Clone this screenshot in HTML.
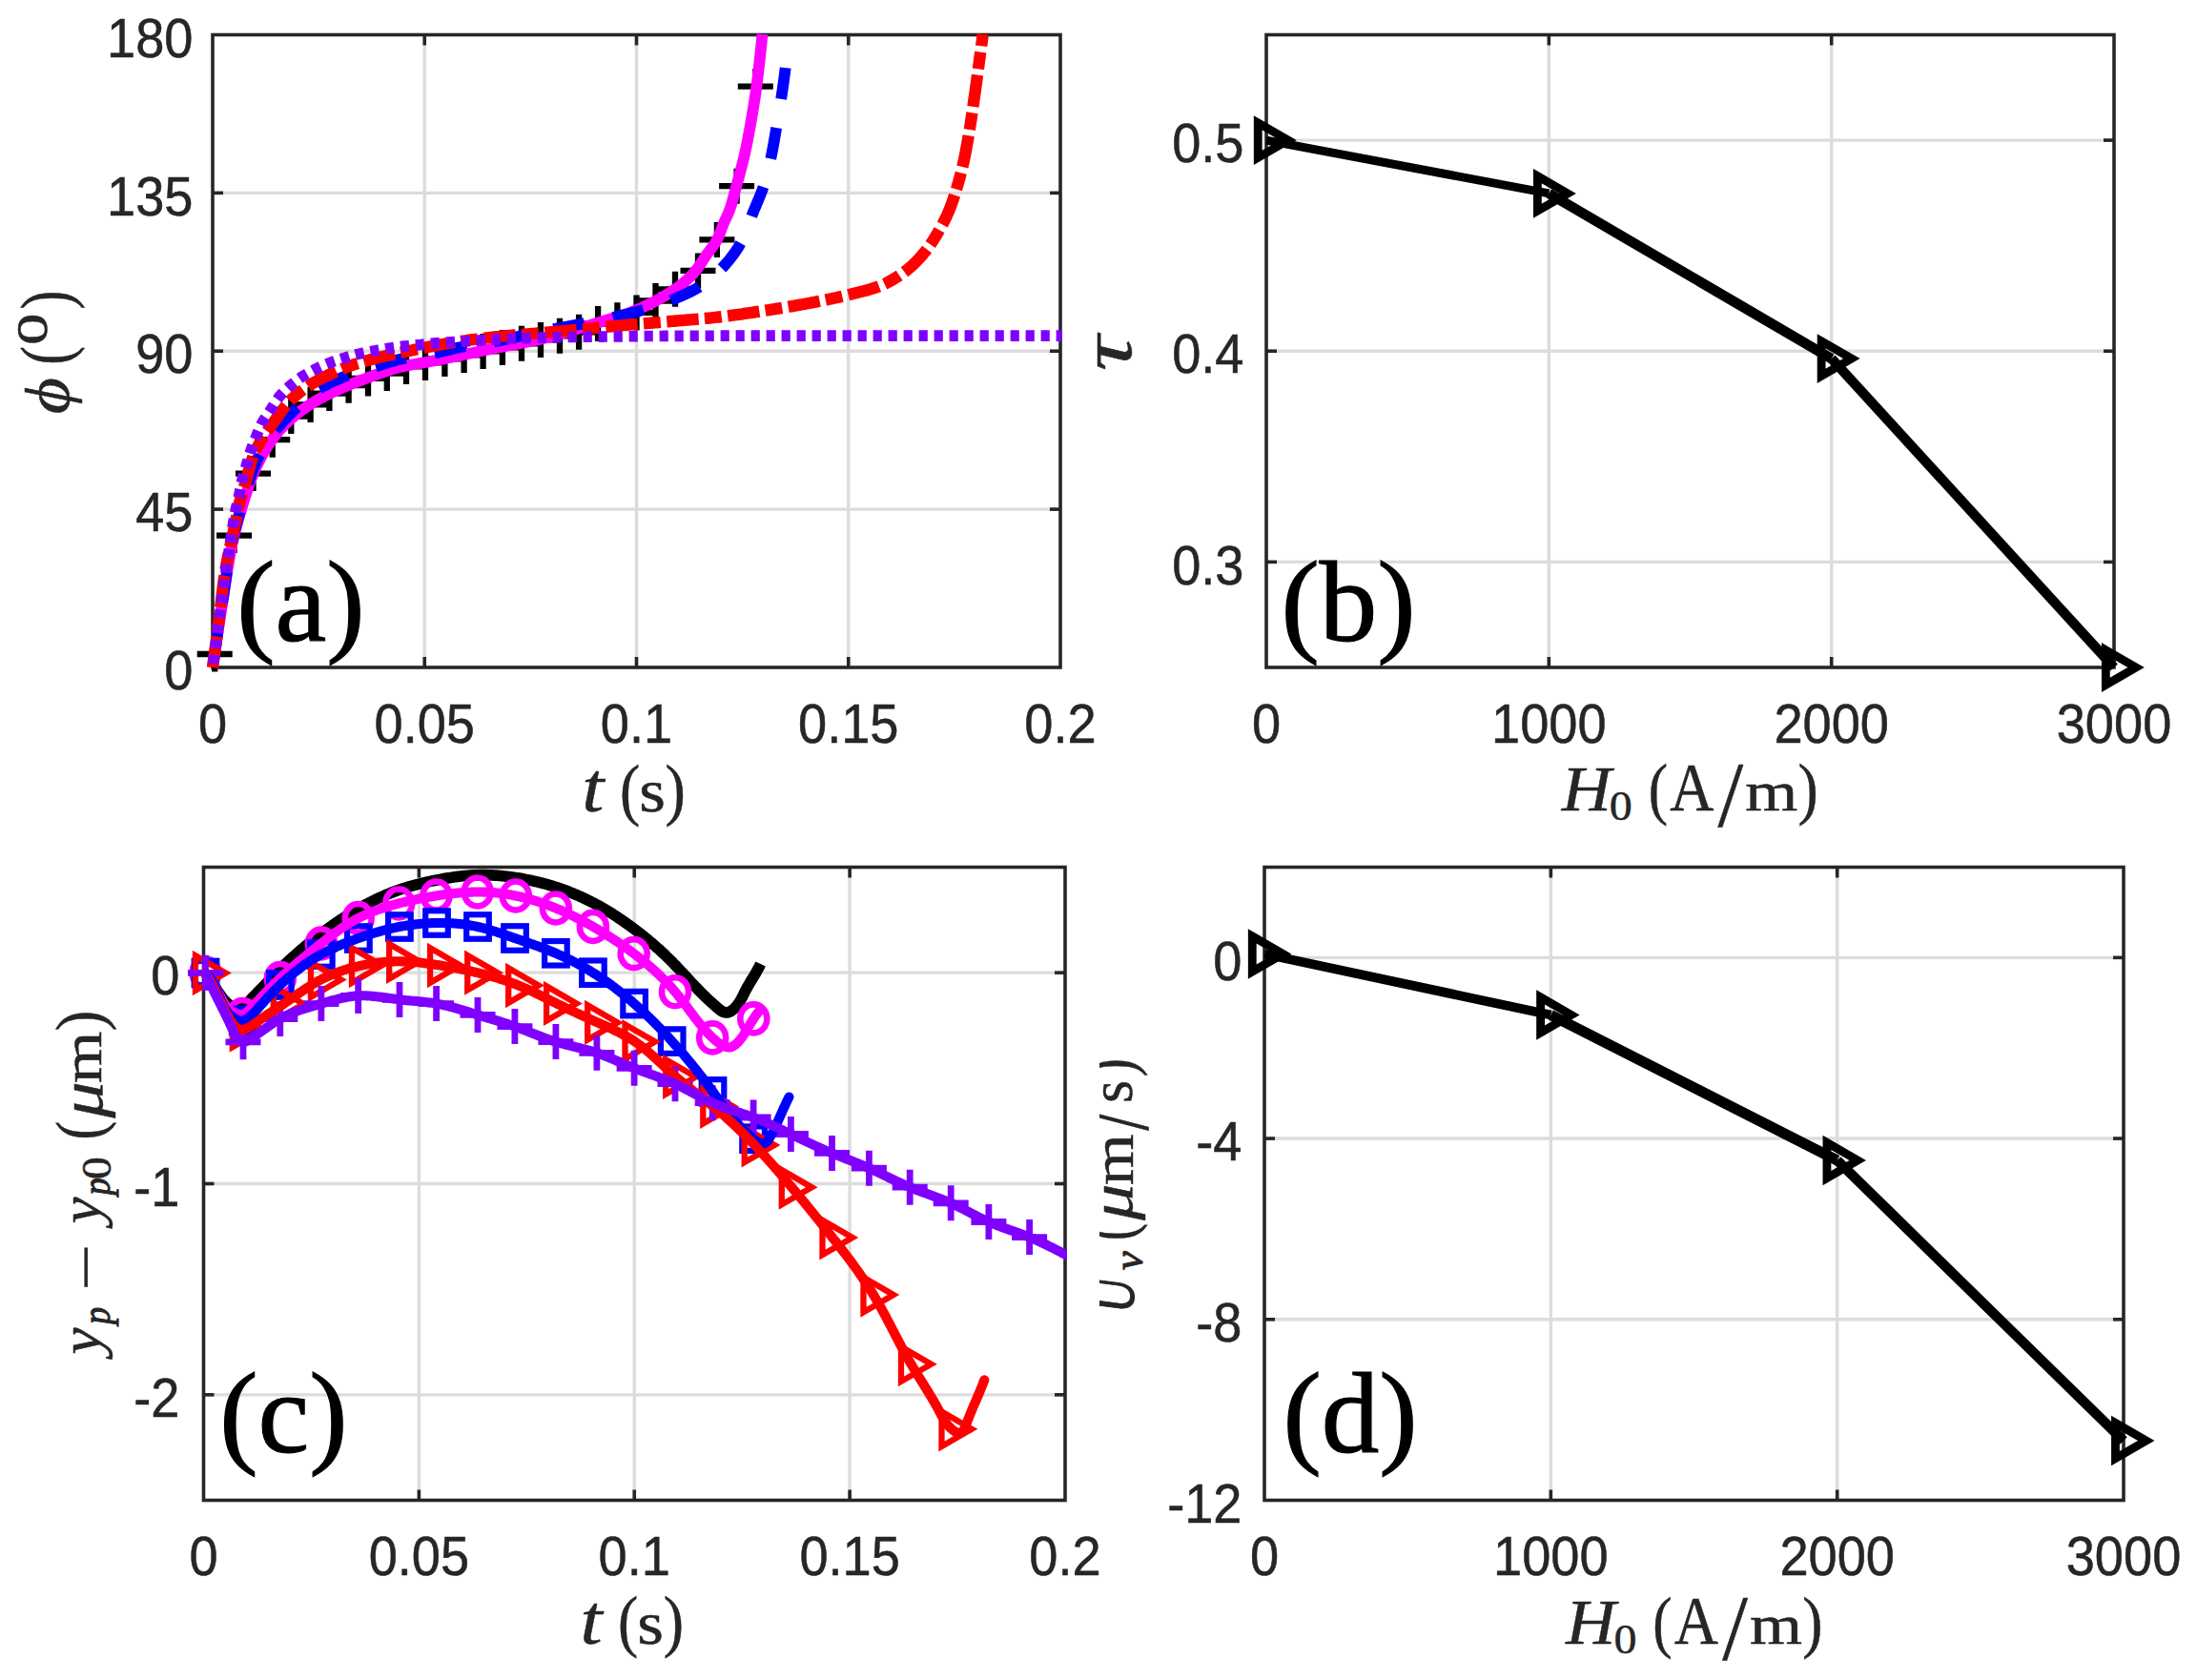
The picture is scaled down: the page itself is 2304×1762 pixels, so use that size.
<!DOCTYPE html>
<html><head><meta charset="utf-8"><title>Figure</title>
<style>
html,body{margin:0;padding:0;background:#fff;}
svg{display:block;}
.tk{font-family:"Liberation Sans",Arial,Helvetica,sans-serif;fill:#262626;stroke:#262626;stroke-width:0.5px;}
.se{font-family:"Liberation Serif","Times New Roman",Times,serif;}
.lb{font-family:"Liberation Serif","Times New Roman",Times,serif;fill:#262626;}
</style></head><body>
<svg width="2304" height="1762" viewBox="0 0 2304 1762">
<rect width="2304" height="1762" fill="#fff"/>
<line x1="445.25" y1="36.5" x2="445.25" y2="700" stroke="#dcdcdc" stroke-width="3.4"/>
<line x1="667.5" y1="36.5" x2="667.5" y2="700" stroke="#dcdcdc" stroke-width="3.4"/>
<line x1="889.75" y1="36.5" x2="889.75" y2="700" stroke="#dcdcdc" stroke-width="3.4"/>
<line x1="223" y1="534.12" x2="1112" y2="534.12" stroke="#dcdcdc" stroke-width="3.4"/>
<line x1="223" y1="368.25" x2="1112" y2="368.25" stroke="#dcdcdc" stroke-width="3.4"/>
<line x1="223" y1="202.38" x2="1112" y2="202.38" stroke="#dcdcdc" stroke-width="3.4"/>
<line x1="1624.33" y1="36.5" x2="1624.33" y2="700" stroke="#dcdcdc" stroke-width="3.4"/>
<line x1="1920.67" y1="36.5" x2="1920.67" y2="700" stroke="#dcdcdc" stroke-width="3.4"/>
<line x1="1328" y1="589.42" x2="2217" y2="589.42" stroke="#dcdcdc" stroke-width="3.4"/>
<line x1="1328" y1="368.25" x2="2217" y2="368.25" stroke="#dcdcdc" stroke-width="3.4"/>
<line x1="1328" y1="147.08" x2="2217" y2="147.08" stroke="#dcdcdc" stroke-width="3.4"/>
<line x1="439.38" y1="909.5" x2="439.38" y2="1573.5" stroke="#dcdcdc" stroke-width="3.4"/>
<line x1="665.25" y1="909.5" x2="665.25" y2="1573.5" stroke="#dcdcdc" stroke-width="3.4"/>
<line x1="891.12" y1="909.5" x2="891.12" y2="1573.5" stroke="#dcdcdc" stroke-width="3.4"/>
<line x1="213.5" y1="1020.17" x2="1117" y2="1020.17" stroke="#dcdcdc" stroke-width="3.4"/>
<line x1="213.5" y1="1241.5" x2="1117" y2="1241.5" stroke="#dcdcdc" stroke-width="3.4"/>
<line x1="213.5" y1="1462.83" x2="1117" y2="1462.83" stroke="#dcdcdc" stroke-width="3.4"/>
<line x1="1626.33" y1="909.5" x2="1626.33" y2="1573.5" stroke="#dcdcdc" stroke-width="3.4"/>
<line x1="1926.67" y1="909.5" x2="1926.67" y2="1573.5" stroke="#dcdcdc" stroke-width="3.4"/>
<line x1="1326" y1="1004.36" x2="2227" y2="1004.36" stroke="#dcdcdc" stroke-width="3.4"/>
<line x1="1326" y1="1194.07" x2="2227" y2="1194.07" stroke="#dcdcdc" stroke-width="3.4"/>
<line x1="1326" y1="1383.79" x2="2227" y2="1383.79" stroke="#dcdcdc" stroke-width="3.4"/>
<line x1="445.25" y1="700" x2="445.25" y2="689" stroke="#262626" stroke-width="3.6"/>
<line x1="445.25" y1="36.5" x2="445.25" y2="47.5" stroke="#262626" stroke-width="3.6"/>
<line x1="667.5" y1="700" x2="667.5" y2="689" stroke="#262626" stroke-width="3.6"/>
<line x1="667.5" y1="36.5" x2="667.5" y2="47.5" stroke="#262626" stroke-width="3.6"/>
<line x1="889.75" y1="700" x2="889.75" y2="689" stroke="#262626" stroke-width="3.6"/>
<line x1="889.75" y1="36.5" x2="889.75" y2="47.5" stroke="#262626" stroke-width="3.6"/>
<line x1="223" y1="534.12" x2="234" y2="534.12" stroke="#262626" stroke-width="3.6"/>
<line x1="1112" y1="534.12" x2="1101" y2="534.12" stroke="#262626" stroke-width="3.6"/>
<line x1="223" y1="368.25" x2="234" y2="368.25" stroke="#262626" stroke-width="3.6"/>
<line x1="1112" y1="368.25" x2="1101" y2="368.25" stroke="#262626" stroke-width="3.6"/>
<line x1="223" y1="202.38" x2="234" y2="202.38" stroke="#262626" stroke-width="3.6"/>
<line x1="1112" y1="202.38" x2="1101" y2="202.38" stroke="#262626" stroke-width="3.6"/>
<rect x="223" y="36.5" width="889" height="663.5" fill="none" stroke="#262626" stroke-width="3.6"/>
<line x1="1624.33" y1="700" x2="1624.33" y2="689" stroke="#262626" stroke-width="3.6"/>
<line x1="1624.33" y1="36.5" x2="1624.33" y2="47.5" stroke="#262626" stroke-width="3.6"/>
<line x1="1920.67" y1="700" x2="1920.67" y2="689" stroke="#262626" stroke-width="3.6"/>
<line x1="1920.67" y1="36.5" x2="1920.67" y2="47.5" stroke="#262626" stroke-width="3.6"/>
<line x1="1328" y1="589.42" x2="1339" y2="589.42" stroke="#262626" stroke-width="3.6"/>
<line x1="2217" y1="589.42" x2="2206" y2="589.42" stroke="#262626" stroke-width="3.6"/>
<line x1="1328" y1="368.25" x2="1339" y2="368.25" stroke="#262626" stroke-width="3.6"/>
<line x1="2217" y1="368.25" x2="2206" y2="368.25" stroke="#262626" stroke-width="3.6"/>
<line x1="1328" y1="147.08" x2="1339" y2="147.08" stroke="#262626" stroke-width="3.6"/>
<line x1="2217" y1="147.08" x2="2206" y2="147.08" stroke="#262626" stroke-width="3.6"/>
<rect x="1328" y="36.5" width="889" height="663.5" fill="none" stroke="#262626" stroke-width="3.6"/>
<line x1="439.38" y1="1573.5" x2="439.38" y2="1562.5" stroke="#262626" stroke-width="3.6"/>
<line x1="439.38" y1="909.5" x2="439.38" y2="920.5" stroke="#262626" stroke-width="3.6"/>
<line x1="665.25" y1="1573.5" x2="665.25" y2="1562.5" stroke="#262626" stroke-width="3.6"/>
<line x1="665.25" y1="909.5" x2="665.25" y2="920.5" stroke="#262626" stroke-width="3.6"/>
<line x1="891.12" y1="1573.5" x2="891.12" y2="1562.5" stroke="#262626" stroke-width="3.6"/>
<line x1="891.12" y1="909.5" x2="891.12" y2="920.5" stroke="#262626" stroke-width="3.6"/>
<line x1="213.5" y1="1020.17" x2="224.5" y2="1020.17" stroke="#262626" stroke-width="3.6"/>
<line x1="1117" y1="1020.17" x2="1106" y2="1020.17" stroke="#262626" stroke-width="3.6"/>
<line x1="213.5" y1="1241.5" x2="224.5" y2="1241.5" stroke="#262626" stroke-width="3.6"/>
<line x1="1117" y1="1241.5" x2="1106" y2="1241.5" stroke="#262626" stroke-width="3.6"/>
<line x1="213.5" y1="1462.83" x2="224.5" y2="1462.83" stroke="#262626" stroke-width="3.6"/>
<line x1="1117" y1="1462.83" x2="1106" y2="1462.83" stroke="#262626" stroke-width="3.6"/>
<rect x="213.5" y="909.5" width="903.5" height="664" fill="none" stroke="#262626" stroke-width="3.6"/>
<line x1="1626.33" y1="1573.5" x2="1626.33" y2="1562.5" stroke="#262626" stroke-width="3.6"/>
<line x1="1626.33" y1="909.5" x2="1626.33" y2="920.5" stroke="#262626" stroke-width="3.6"/>
<line x1="1926.67" y1="1573.5" x2="1926.67" y2="1562.5" stroke="#262626" stroke-width="3.6"/>
<line x1="1926.67" y1="909.5" x2="1926.67" y2="920.5" stroke="#262626" stroke-width="3.6"/>
<line x1="1326" y1="1004.36" x2="1337" y2="1004.36" stroke="#262626" stroke-width="3.6"/>
<line x1="2227" y1="1004.36" x2="2216" y2="1004.36" stroke="#262626" stroke-width="3.6"/>
<line x1="1326" y1="1194.07" x2="1337" y2="1194.07" stroke="#262626" stroke-width="3.6"/>
<line x1="2227" y1="1194.07" x2="2216" y2="1194.07" stroke="#262626" stroke-width="3.6"/>
<line x1="1326" y1="1383.79" x2="1337" y2="1383.79" stroke="#262626" stroke-width="3.6"/>
<line x1="2227" y1="1383.79" x2="2216" y2="1383.79" stroke="#262626" stroke-width="3.6"/>
<rect x="1326" y="909.5" width="901" height="664" fill="none" stroke="#262626" stroke-width="3.6"/>
<defs>
<clipPath id="cA"><rect x="193" y="34.7" width="920.8" height="695.3"/></clipPath>
<clipPath id="cC"><rect x="183.5" y="907.7" width="935.3" height="695.8"/></clipPath>
<clipPath id="cDl"><rect x="1153" y="900" width="200" height="700"/></clipPath>
</defs>
<path d="M206.7 686H243.7M225.2 667.5V704.5" stroke="#000" stroke-width="6.3" fill="none"/>
<path d="M227.1 561.6H264.1M245.6 543.1V580.1" stroke="#000" stroke-width="6.3" fill="none"/>
<path d="M247 496.6H284M265.5 478.1V515.1" stroke="#000" stroke-width="6.3" fill="none"/>
<path d="M267.2 461.2H304.2M285.7 442.7V479.7" stroke="#000" stroke-width="6.3" fill="none"/>
<path d="M286.8 436.5H323.8M305.3 418V455" stroke="#000" stroke-width="6.3" fill="none"/>
<path d="M307.1 424.4H344.1M325.6 405.9V442.9" stroke="#000" stroke-width="6.3" fill="none"/>
<path d="M326.9 412.6H363.9M345.4 394.1V431.1" stroke="#000" stroke-width="6.3" fill="none"/>
<path d="M347.1 404.2H384.1M365.6 385.7V422.7" stroke="#000" stroke-width="6.3" fill="none"/>
<path d="M367.5 396.9H404.5M386 378.4V415.4" stroke="#000" stroke-width="6.3" fill="none"/>
<path d="M387.3 391.6H424.3M405.8 373.1V410.1" stroke="#000" stroke-width="6.3" fill="none"/>
<path d="M407.5 384.4H444.5M426 365.9V402.9" stroke="#000" stroke-width="6.3" fill="none"/>
<path d="M427.5 380.4H464.5M446 361.9V398.9" stroke="#000" stroke-width="6.3" fill="none"/>
<path d="M447.9 376.4H484.9M466.4 357.9V394.9" stroke="#000" stroke-width="6.3" fill="none"/>
<path d="M468.1 372.4H505.1M486.6 353.9V390.9" stroke="#000" stroke-width="6.3" fill="none"/>
<path d="M488.1 368.4H525.1M506.6 349.9V386.9" stroke="#000" stroke-width="6.3" fill="none"/>
<path d="M508.4 364.45H545.4M526.9 345.95V382.95" stroke="#000" stroke-width="6.3" fill="none"/>
<path d="M528.5 360.35H565.5M547 341.85V378.85" stroke="#000" stroke-width="6.3" fill="none"/>
<path d="M548.5 356.4H585.5M567 337.9V374.9" stroke="#000" stroke-width="6.3" fill="none"/>
<path d="M568.5 352.3H605.5M587 333.8V370.8" stroke="#000" stroke-width="6.3" fill="none"/>
<path d="M588.6 348.3H625.6M607.1 329.8V366.8" stroke="#000" stroke-width="6.3" fill="none"/>
<path d="M608.6 339.5H645.6M627.1 321V358" stroke="#000" stroke-width="6.3" fill="none"/>
<path d="M628.9 335.7H665.9M647.4 317.2V354.2" stroke="#000" stroke-width="6.3" fill="none"/>
<path d="M649 327.9H686M667.5 309.4V346.4" stroke="#000" stroke-width="6.3" fill="none"/>
<path d="M669 315.5H706M687.5 297V334" stroke="#000" stroke-width="6.3" fill="none"/>
<path d="M689.5 303.3H726.5M708 284.8V321.8" stroke="#000" stroke-width="6.3" fill="none"/>
<path d="M713.5 283.9H750.5M732 265.4V302.4" stroke="#000" stroke-width="6.3" fill="none"/>
<path d="M733.4 251.4H770.4M751.9 232.9V269.9" stroke="#000" stroke-width="6.3" fill="none"/>
<path d="M754.1 195.2H791.1M772.6 176.7V213.7" stroke="#000" stroke-width="6.3" fill="none"/>
<path d="M773.8 90.6H810.8M792.3 72.1V109.1" stroke="#000" stroke-width="6.3" fill="none"/>
<g clip-path="url(#cA)">
<path d="M223 700 L223.29 698.02 L223.58 696.04 L223.87 694.07 L224.16 692.09 L224.46 690.11 L224.75 688.13 L225.04 686.16 L225.34 684.18 L225.63 682.2 L225.93 680.22 L226.22 678.25 L226.52 676.27 L226.82 674.29 L227.12 672.32 L227.42 670.34 L227.71 668.36 L228.01 666.39 L228.32 664.41 L228.62 662.44 L228.92 660.46 L229.22 658.48 L229.52 656.51 L229.83 654.53 L230.13 652.56 L230.44 650.58 L230.74 648.61 L231.05 646.63 L231.35 644.65 L231.66 642.68 L231.97 640.7 L232.27 638.73 L232.58 636.75 L232.89 634.78 L233.2 632.8 L233.51 630.83 L233.82 628.85 L234.13 626.88 L234.44 624.9 L234.74 622.93 L235.04 620.95 L235.34 618.97 L235.64 616.99 L235.93 615.01 L236.23 613.03 L236.52 611.05 L236.82 609.07 L237.11 607.09 L237.41 605.11 L237.71 603.13 L238.01 601.15 L238.32 599.18 L238.63 597.2 L238.94 595.22 L239.26 593.25 L239.59 591.28 L239.92 589.31 L240.25 587.34 L240.6 585.37 L240.95 583.41 L241.31 581.45 L241.68 579.49 L242.06 577.53 L242.44 575.57 L242.84 573.62 L243.26 571.67 L243.68 569.72 L244.12 567.77 L244.56 565.83 L245.02 563.88 L245.49 561.94 L245.97 559.99 L246.46 558.05 L246.96 556.11 L247.47 554.18 L247.98 552.24 L248.5 550.31 L249.03 548.37 L249.57 546.44 L250.11 544.52 L250.66 542.59 L251.22 540.67 L251.78 538.75 L252.34 536.83 L252.91 534.91 L253.49 532.99 L254.06 531.08 L254.64 529.17 L255.22 527.26 L255.81 525.35 L256.4 523.44 L257 521.53 L257.6 519.62 L258.21 517.7 L258.83 515.79 L259.46 513.88 L260.1 511.97 L260.75 510.07 L261.4 508.17 L262.08 506.28 L262.76 504.4 L263.46 502.52 L264.17 500.65 L264.89 498.8 L265.64 496.95 L266.39 495.11 L267.17 493.29 L267.96 491.48 L268.78 489.68 L269.62 487.88 L270.49 486.08 L271.38 484.28 L272.29 482.49 L273.22 480.71 L274.18 478.94 L275.16 477.17 L276.16 475.41 L277.17 473.67 L278.21 471.94 L279.26 470.22 L280.34 468.52 L281.42 466.83 L282.53 465.16 L283.65 463.52 L284.78 461.89 L285.93 460.28 L287.09 458.7 L288.29 457.12 L289.53 455.56 L290.8 454.01 L292.1 452.48 L293.42 450.96 L294.78 449.46 L296.15 447.98 L297.55 446.53 L298.97 445.09 L300.4 443.68 L301.85 442.3 L303.31 440.94 L304.77 439.61 L306.25 438.31 L307.76 437.02 L309.29 435.75 L310.84 434.49 L312.42 433.25 L314.01 432.02 L315.62 430.81 L317.24 429.62 L318.89 428.45 L320.54 427.3 L322.2 426.16 L323.88 425.05 L325.56 423.96 L327.25 422.89 L328.95 421.84 L330.65 420.81 L332.35 419.81 L334.08 418.82 L335.82 417.86 L337.58 416.91 L339.35 415.98 L341.13 415.07 L342.93 414.17 L344.73 413.29 L346.54 412.42 L348.35 411.57 L350.18 410.72 L352 409.88 L353.82 409.06 L355.65 408.24 L357.47 407.42 L359.3 406.62 L361.13 405.83 L362.97 405.04 L364.81 404.27 L366.66 403.5 L368.51 402.75 L370.37 402 L372.23 401.27 L374.1 400.54 L375.96 399.82 L377.83 399.11 L379.7 398.4 L381.58 397.71 L383.45 397.02 L385.33 396.33 L387.2 395.64 L389.08 394.94 L390.96 394.25 L392.84 393.56 L394.73 392.86 L396.61 392.18 L398.5 391.5 L400.39 390.83 L402.29 390.17 L404.18 389.52 L406.08 388.89 L407.99 388.27 L409.89 387.68 L411.81 387.1 L413.72 386.54 L415.64 386.01 L417.56 385.5 L419.49 385.02 L421.43 384.57 L423.37 384.14 L425.33 383.74 L427.28 383.36 L429.25 382.99 L431.22 382.63 L433.19 382.29 L435.17 381.94 L437.14 381.6 L439.12 381.26 L441.09 380.92 L443.06 380.56 L445.02 380.2 L446.99 379.82 L448.95 379.45 L450.92 379.08 L452.88 378.71 L454.85 378.34 L456.81 377.97 L458.78 377.6 L460.74 377.22 L462.7 376.85 L464.66 376.47 L466.63 376.09 L468.59 375.7 L470.55 375.31 L472.51 374.92 L474.47 374.52 L476.43 374.12 L478.38 373.72 L480.34 373.31 L482.3 372.9 L484.25 372.49 L486.21 372.08 L488.17 371.66 L490.12 371.25 L492.08 370.83 L494.03 370.41 L495.99 370 L497.94 369.58 L499.89 369.16 L501.85 368.74 L503.8 368.32 L505.76 367.9 L507.72 367.49 L509.67 367.07 L511.63 366.66 L513.58 366.25 L515.54 365.84 L517.5 365.44 L519.46 365.03 L521.41 364.63 L523.37 364.24 L525.34 363.85 L527.3 363.47 L529.26 363.09 L531.23 362.71 L533.19 362.34 L535.16 361.97 L537.13 361.6 L539.09 361.23 L541.06 360.86 L543.03 360.49 L544.99 360.12 L546.96 359.75 L548.92 359.37 L550.89 358.99 L552.85 358.61 L554.81 358.22 L556.77 357.82 L558.73 357.42 L560.68 357.01 L562.63 356.6 L564.58 356.18 L566.53 355.74 L568.48 355.3 L570.42 354.85 L572.36 354.38 L574.3 353.91 L576.23 353.42 L578.17 352.91 L580.1 352.4 L582.03 351.88 L583.95 351.35 L585.88 350.82 L587.8 350.27 L589.72 349.72 L591.65 349.16 L593.57 348.6 L595.48 348.03 L597.4 347.46 L599.32 346.89 L601.24 346.31 L603.15 345.74 L605.07 345.16 L606.99 344.58 L608.9 344 L610.82 343.43 L612.73 342.86 L614.65 342.29 L616.56 341.71 L618.48 341.14 L620.39 340.56 L622.3 339.97 L624.21 339.38 L626.12 338.79 L628.03 338.2 L629.94 337.61 L631.85 337.01 L633.76 336.42 L635.67 335.83 L637.58 335.24 L639.49 334.66 L641.41 334.09 L643.34 333.53 L645.26 332.96 L647.18 332.4 L649.1 331.82 L651.01 331.24 L652.91 330.63 L654.81 330.01 L656.7 329.37 L658.57 328.7 L660.44 328 L662.3 327.28 L664.15 326.53 L665.99 325.76 L667.83 324.97 L669.66 324.16 L671.49 323.33 L673.31 322.5 L675.13 321.65 L676.94 320.8 L678.75 319.95 L680.55 319.09 L682.35 318.22 L684.15 317.34 L685.94 316.44 L687.72 315.53 L689.5 314.6 L691.26 313.65 L693 312.68 L694.73 311.68 L696.44 310.67 L698.16 309.64 L699.87 308.6 L701.58 307.54 L703.27 306.46 L704.96 305.36 L706.64 304.24 L708.29 303.11 L709.93 301.95 L711.55 300.78 L713.15 299.58 L714.72 298.36 L716.27 297.12 L717.78 295.86 L719.28 294.55 L720.77 293.2 L722.23 291.82 L723.67 290.41 L725.08 288.97 L726.45 287.5 L727.79 286.01 L729.08 284.5 L730.33 282.97 L731.53 281.39 L732.69 279.77 L733.82 278.13 L734.92 276.45 L736.01 274.77 L737.1 273.07 L738.19 271.38 L739.28 269.7 L740.4 268.04 L741.55 266.4 L742.74 264.78 L743.95 263.17 L745.18 261.56 L746.4 259.96 L747.6 258.34 L748.76 256.71 L749.87 255.06 L750.91 253.38 L751.87 251.66 L752.74 249.9 L753.55 248.09 L754.32 246.25 L755.05 244.39 L755.76 242.51 L756.45 240.62 L757.16 238.73 L757.87 236.85 L758.61 234.98 L759.4 233.15 L760.22 231.32 L761.07 229.5 L761.92 227.69 L762.77 225.87 L763.58 224.04 L764.36 222.21 L765.07 220.35 L765.73 218.48 L766.36 216.59 L766.96 214.69 L767.53 212.78 L768.09 210.86 L768.64 208.93 L769.17 207 L769.69 205.06 L770.2 203.12 L770.71 201.18 L771.22 199.25 L771.73 197.31 L772.25 195.38 L772.77 193.45 L773.3 191.52 L773.82 189.59 L774.35 187.66 L774.87 185.73 L775.39 183.8 L775.9 181.87 L776.42 179.93 L776.93 178 L777.43 176.06 L777.93 174.13 L778.43 172.19 L778.91 170.25 L779.39 168.31 L779.86 166.37 L780.32 164.42 L780.78 162.48 L781.22 160.53 L781.65 158.58 L782.07 156.63 L782.48 154.67 L782.89 152.72 L783.29 150.76 L783.68 148.8 L784.07 146.84 L784.45 144.87 L784.82 142.91 L785.19 140.94 L785.55 138.97 L785.91 137.01 L786.27 135.04 L786.62 133.07 L786.97 131.1 L787.31 129.13 L787.65 127.16 L787.99 125.2 L788.33 123.23 L788.67 121.25 L789 119.28 L789.33 117.31 L789.66 115.34 L789.98 113.37 L790.3 111.39 L790.62 109.42 L790.93 107.44 L791.24 105.47 L791.54 103.49 L791.84 101.51 L792.14 99.54 L792.43 97.56 L792.71 95.58 L792.99 93.6 L793.26 91.62 L793.53 89.64 L793.79 87.66 L794.04 85.68 L794.29 83.69 L794.53 81.71 L794.77 79.72 L795.01 77.74 L795.24 75.75 L795.47 73.77 L795.69 71.78 L795.92 69.79 L796.14 67.81 L796.36 65.82 L796.59 63.83 L796.81 61.85 L797.03 59.86 L797.24 57.87 L797.46 55.89 L797.67 53.9 L797.88 51.91 L798.09 49.92 L798.3 47.93 L798.5 45.95 L798.71 43.96 L798.91 41.97 L799.11 39.98 L799.31 37.99 L799.5 36" fill="none" stroke="#ff00ff" stroke-width="11.8" stroke-linejoin="round" stroke-linecap="butt"/>
<path d="M223 700 L223.28 698.03 L223.56 696.05 L223.84 694.08 L224.13 692.1 L224.41 690.13 L224.69 688.15 L224.98 686.18 L225.27 684.21 L225.55 682.23 L225.84 680.26 L226.13 678.28 L226.42 676.31 L226.71 674.34 L227 672.36 L227.29 670.39 L227.58 668.42 L227.87 666.44 L228.16 664.47 L228.46 662.5 L228.75 660.53 L229.05 658.55 L229.34 656.58 L229.64 654.61 L229.93 652.64 L230.23 650.66 L230.53 648.69 L230.83 646.72 L231.13 644.75 L231.43 642.78 L231.73 640.8 L232.03 638.83 L232.33 636.86 L232.63 634.89 L232.93 632.92 L233.24 630.95 L233.54 628.98 L233.84 627.01 L234.15 625.03 L234.45 623.06 L234.75 621.09 L235.04 619.12 L235.34 617.14 L235.63 615.17 L235.92 613.19 L236.21 611.21 L236.5 609.24 L236.79 607.26 L237.09 605.29 L237.38 603.31 L237.68 601.34 L237.98 599.36 L238.28 597.39 L238.58 595.42 L238.89 593.44 L239.21 591.47 L239.53 589.51 L239.85 587.54 L240.19 585.57 L240.52 583.61 L240.87 581.65 L241.22 579.69 L241.59 577.73 L241.96 575.78 L242.34 573.83 L242.73 571.88 L243.13 569.93 L243.55 567.98 L243.97 566.04 L244.41 564.09 L244.86 562.15 L245.33 560.21 L245.8 558.27 L246.28 556.34 L246.77 554.4 L247.27 552.47 L247.77 550.54 L248.29 548.6 L248.81 546.68 L249.34 544.75 L249.87 542.82 L250.41 540.9 L250.95 538.97 L251.5 537.05 L252.05 535.13 L252.6 533.22 L253.16 531.3 L253.71 529.38 L254.27 527.47 L254.84 525.56 L255.4 523.65 L255.96 521.73 L256.52 519.81 L257.08 517.89 L257.65 515.96 L258.22 514.04 L258.8 512.12 L259.38 510.19 L259.97 508.27 L260.57 506.36 L261.18 504.45 L261.8 502.54 L262.43 500.64 L263.08 498.75 L263.74 496.87 L264.42 495 L265.11 493.14 L265.82 491.29 L266.55 489.45 L267.3 487.63 L268.07 485.83 L268.88 484.03 L269.71 482.24 L270.58 480.46 L271.48 478.68 L272.41 476.91 L273.37 475.14 L274.35 473.39 L275.36 471.65 L276.38 469.91 L277.43 468.19 L278.5 466.48 L279.58 464.78 L280.68 463.1 L281.79 461.43 L282.92 459.78 L284.05 458.14 L285.2 456.52 L286.35 454.91 L287.51 453.33 L288.7 451.75 L289.93 450.19 L291.17 448.65 L292.44 447.11 L293.74 445.59 L295.05 444.08 L296.39 442.59 L297.74 441.1 L299.1 439.62 L300.48 438.16 L301.86 436.71 L303.26 435.26 L304.66 433.83 L306.07 432.41 L307.48 430.99 L308.9 429.59 L310.31 428.19 L311.73 426.79 L313.15 425.38 L314.59 423.97 L316.03 422.56 L317.48 421.16 L318.95 419.77 L320.43 418.4 L321.93 417.05 L323.44 415.74 L324.97 414.46 L326.52 413.22 L328.1 412.03 L329.69 410.89 L331.31 409.8 L332.95 408.75 L334.62 407.72 L336.32 406.72 L338.05 405.73 L339.79 404.77 L341.56 403.82 L343.34 402.9 L345.14 402 L346.96 401.12 L348.78 400.26 L350.62 399.41 L352.46 398.59 L354.31 397.79 L356.16 397 L358.01 396.23 L359.86 395.48 L361.71 394.75 L363.56 394.03 L365.41 393.34 L367.28 392.67 L369.16 392.02 L371.05 391.39 L372.95 390.78 L374.85 390.17 L376.76 389.58 L378.68 389 L380.59 388.43 L382.51 387.85 L384.43 387.29 L386.35 386.72 L388.26 386.15 L390.18 385.57 L392.09 384.99 L393.99 384.4 L395.9 383.8 L397.8 383.2 L399.71 382.59 L401.61 381.98 L403.52 381.38 L405.43 380.78 L407.34 380.19 L409.25 379.61 L411.16 379.04 L413.08 378.48 L415 377.95 L416.92 377.43 L418.85 376.94 L420.78 376.48 L422.72 376.04 L424.66 375.63 L426.61 375.25 L428.57 374.88 L430.53 374.53 L432.49 374.2 L434.46 373.88 L436.44 373.57 L438.41 373.26 L440.38 372.96 L442.36 372.65 L444.34 372.35 L446.31 372.03 L448.28 371.71 L450.25 371.38 L452.21 371.03 L454.17 370.66 L456.13 370.28 L458.08 369.87 L460.03 369.44 L461.97 369 L463.91 368.55 L465.86 368.08 L467.8 367.62 L469.74 367.15 L471.68 366.68 L473.62 366.21 L475.56 365.75 L477.5 365.3 L479.45 364.86 L481.4 364.44 L483.35 364.04 L485.3 363.66 L487.26 363.3 L489.23 362.95 L491.19 362.62 L493.16 362.31 L495.13 362 L497.1 361.7 L499.08 361.41 L501.05 361.12 L503.03 360.83 L505 360.53 L506.98 360.24 L508.95 359.94 L510.92 359.63 L512.89 359.32 L514.86 358.99 L516.82 358.64 L518.78 358.28 L520.74 357.9 L522.69 357.51 L524.64 357.11 L526.6 356.7 L528.55 356.28 L530.49 355.85 L532.44 355.42 L534.39 354.99 L536.34 354.55 L538.28 354.12 L540.23 353.69 L542.18 353.26 L544.13 352.83 L546.08 352.42 L548.03 352.01 L549.98 351.59 L551.94 351.18 L553.89 350.76 L555.84 350.35 L557.79 349.94 L559.74 349.52 L561.69 349.11 L563.64 348.7 L565.6 348.29 L567.55 347.88 L569.5 347.47 L571.45 347.07 L573.41 346.67 L575.36 346.27 L577.32 345.88 L579.27 345.49 L581.23 345.1 L583.18 344.72 L585.14 344.34 L587.1 343.96 L589.06 343.59 L591.02 343.22 L592.98 342.86 L594.94 342.49 L596.9 342.13 L598.87 341.76 L600.83 341.4 L602.79 341.03 L604.75 340.66 L606.71 340.29 L608.66 339.91 L610.62 339.53 L612.58 339.15 L614.54 338.77 L616.5 338.39 L618.46 338.01 L620.41 337.63 L622.37 337.25 L624.33 336.87 L626.29 336.49 L628.25 336.1 L630.2 335.71 L632.16 335.32 L634.11 334.92 L636.07 334.51 L638.02 334.1 L639.96 333.67 L641.91 333.24 L643.85 332.81 L645.8 332.36 L647.74 331.91 L649.68 331.46 L651.63 330.99 L653.57 330.53 L655.51 330.05 L657.44 329.57 L659.38 329.08 L661.31 328.58 L663.24 328.08 L665.17 327.56 L667.1 327.04 L669.02 326.51 L670.94 325.97 L672.85 325.43 L674.76 324.87 L676.67 324.3 L678.58 323.72 L680.49 323.13 L682.39 322.53 L684.29 321.92 L686.19 321.3 L688.09 320.66 L689.98 320.02 L691.87 319.36 L693.75 318.69 L695.63 318.01 L697.5 317.32 L699.36 316.61 L701.22 315.9 L703.07 315.17 L704.92 314.43 L706.76 313.68 L708.61 312.92 L710.47 312.15 L712.32 311.37 L714.17 310.58 L716.02 309.77 L717.86 308.95 L719.69 308.11 L721.51 307.25 L723.32 306.37 L725.11 305.48 L726.89 304.56 L728.64 303.63 L730.37 302.67 L732.08 301.68 L733.76 300.67 L735.41 299.64 L737.05 298.56 L738.67 297.44 L740.29 296.28 L741.89 295.08 L743.48 293.84 L745.04 292.57 L746.6 291.27 L748.13 289.95 L749.64 288.6 L751.12 287.23 L752.59 285.84 L754.02 284.44 L755.43 283.02 L756.8 281.59 L758.15 280.16 L759.47 278.72 L760.79 277.24 L762.1 275.74 L763.4 274.21 L764.68 272.66 L765.94 271.09 L767.19 269.49 L768.41 267.88 L769.61 266.25 L770.77 264.6 L771.91 262.93 L773.02 261.25 L774.09 259.56 L775.12 257.86 L776.11 256.15 L777.06 254.44 L777.96 252.71 L778.83 250.95 L779.66 249.17 L780.46 247.36 L781.23 245.53 L781.98 243.68 L782.7 241.82 L783.41 239.95 L784.11 238.06 L784.8 236.17 L785.49 234.28 L786.17 232.38 L786.86 230.49 L787.55 228.6 L788.25 226.72 L788.97 224.85 L789.7 223 L790.45 221.15 L791.22 219.3 L791.99 217.46 L792.77 215.61 L793.55 213.77 L794.34 211.93 L795.12 210.09 L795.89 208.24 L796.65 206.4 L797.39 204.55 L798.12 202.69 L798.83 200.83 L799.51 198.96 L800.16 197.08 L800.78 195.2 L801.37 193.3 L801.94 191.4 L802.5 189.49 L803.05 187.58 L803.58 185.66 L804.1 183.73 L804.61 181.8 L805.11 179.86 L805.6 177.92 L806.07 175.98 L806.53 174.04 L806.99 172.09 L807.43 170.14 L807.87 168.19 L808.29 166.24 L808.71 164.29 L809.12 162.34 L809.52 160.39 L809.9 158.44 L810.28 156.48 L810.65 154.52 L811 152.56 L811.36 150.59 L811.7 148.63 L812.04 146.66 L812.38 144.7 L812.71 142.73 L813.04 140.76 L813.37 138.79 L813.7 136.82 L814.03 134.85 L814.36 132.89 L814.7 130.92 L815.03 128.95 L815.37 126.99 L815.71 125.02 L816.04 123.06 L816.37 121.09 L816.7 119.12 L817.03 117.15 L817.36 115.19 L817.68 113.22 L818 111.25 L818.32 109.28 L818.63 107.31 L818.94 105.34 L819.25 103.37 L819.55 101.4 L819.84 99.43 L820.13 97.45 L820.42 95.48 L820.7 93.51 L820.98 91.53 L821.26 89.56 L821.53 87.58 L821.81 85.61 L822.08 83.63 L822.34 81.65 L822.6 79.68 L822.86 77.7 L823.12 75.72 L823.37 73.74 L823.62 71.76 L823.86 69.78 L824.1 67.8" fill="none" stroke="#0000ff" stroke-width="11.8" stroke-linejoin="round" stroke-linecap="butt" stroke-dasharray="33 30.6" stroke-dashoffset="-5.45"/>
<path d="M223 700 L223.28 697.96 L223.55 695.93 L223.83 693.89 L224.1 691.85 L224.38 689.82 L224.65 687.78 L224.93 685.74 L225.2 683.71 L225.47 681.67 L225.75 679.63 L226.02 677.6 L226.29 675.56 L226.56 673.52 L226.83 671.49 L227.1 669.45 L227.37 667.41 L227.64 665.37 L227.91 663.34 L228.18 661.3 L228.44 659.26 L228.71 657.22 L228.98 655.18 L229.24 653.15 L229.5 651.11 L229.75 649.07 L230 647.03 L230.25 644.98 L230.49 642.94 L230.73 640.9 L230.97 638.86 L231.21 636.81 L231.45 634.77 L231.69 632.73 L231.93 630.68 L232.17 628.64 L232.41 626.6 L232.66 624.56 L232.9 622.52 L233.16 620.48 L233.41 618.44 L233.67 616.4 L233.93 614.36 L234.2 612.32 L234.48 610.29 L234.76 608.26 L235.06 606.22 L235.35 604.19 L235.66 602.17 L235.98 600.14 L236.31 598.12 L236.65 596.09 L237.01 594.07 L237.38 592.06 L237.76 590.04 L238.15 588.03 L238.55 586.01 L238.97 584 L239.39 581.99 L239.82 579.98 L240.25 577.97 L240.69 575.96 L241.14 573.95 L241.59 571.94 L242.04 569.94 L242.49 567.93 L242.95 565.92 L243.41 563.92 L243.86 561.91 L244.32 559.9 L244.77 557.9 L245.22 555.89 L245.66 553.88 L246.1 551.87 L246.53 549.86 L246.96 547.85 L247.38 545.84 L247.78 543.82 L248.18 541.8 L248.57 539.78 L248.96 537.76 L249.36 535.74 L249.76 533.73 L250.18 531.72 L250.61 529.71 L251.06 527.71 L251.54 525.72 L252.06 523.73 L252.61 521.75 L253.18 519.78 L253.78 517.82 L254.39 515.85 L255.02 513.89 L255.65 511.93 L256.28 509.97 L256.9 508.01 L257.51 506.05 L258.11 504.08 L258.68 502.11 L259.23 500.12 L259.75 498.13 L260.26 496.13 L260.77 494.14 L261.27 492.14 L261.79 490.15 L262.33 488.16 L262.91 486.2 L263.52 484.25 L264.18 482.31 L264.88 480.39 L265.63 478.47 L266.41 476.56 L267.23 474.66 L268.09 472.78 L268.97 470.91 L269.88 469.07 L270.81 467.24 L271.76 465.45 L272.75 463.67 L273.79 461.91 L274.86 460.16 L275.97 458.43 L277.11 456.71 L278.27 455.01 L279.44 453.31 L280.64 451.62 L281.84 449.94 L283.05 448.27 L284.26 446.6 L285.47 444.93 L286.67 443.26 L287.86 441.59 L289.05 439.9 L290.24 438.2 L291.44 436.5 L292.64 434.81 L293.85 433.12 L295.07 431.44 L296.31 429.78 L297.56 428.14 L298.84 426.52 L300.14 424.94 L301.46 423.39 L302.82 421.88 L304.2 420.41 L305.62 418.99 L307.09 417.59 L308.59 416.21 L310.14 414.86 L311.71 413.53 L313.32 412.22 L314.96 410.94 L316.62 409.68 L318.29 408.45 L319.98 407.25 L321.69 406.07 L323.4 404.93 L325.11 403.81 L326.83 402.72 L328.57 401.65 L330.33 400.61 L332.12 399.59 L333.92 398.6 L335.74 397.63 L337.58 396.67 L339.42 395.74 L341.27 394.83 L343.13 393.93 L344.98 393.05 L346.84 392.18 L348.71 391.32 L350.58 390.48 L352.46 389.64 L354.34 388.82 L356.24 388.01 L358.14 387.22 L360.05 386.44 L361.96 385.68 L363.88 384.94 L365.81 384.22 L367.74 383.52 L369.68 382.85 L371.62 382.19 L373.56 381.56 L375.52 380.94 L377.48 380.33 L379.45 379.74 L381.43 379.16 L383.4 378.59 L385.39 378.04 L387.37 377.49 L389.36 376.96 L391.35 376.44 L393.34 375.92 L395.34 375.42 L397.33 374.92 L399.32 374.43 L401.32 373.96 L403.32 373.49 L405.32 373.03 L407.33 372.58 L409.33 372.14 L411.34 371.7 L413.35 371.27 L415.36 370.84 L417.38 370.42 L419.39 370 L421.4 369.58 L423.42 369.17 L425.43 368.75 L427.44 368.33 L429.45 367.91 L431.47 367.49 L433.48 367.07 L435.49 366.65 L437.5 366.23 L439.51 365.81 L441.53 365.39 L443.54 364.98 L445.55 364.57 L447.57 364.16 L449.59 363.76 L451.6 363.36 L453.62 362.97 L455.64 362.59 L457.66 362.22 L459.68 361.86 L461.7 361.5 L463.73 361.15 L465.75 360.8 L467.78 360.46 L469.81 360.11 L471.83 359.78 L473.86 359.45 L475.89 359.12 L477.92 358.8 L479.95 358.48 L481.99 358.17 L484.02 357.86 L486.05 357.56 L488.09 357.27 L490.12 356.98 L492.16 356.7 L494.19 356.42 L496.23 356.15 L498.27 355.89 L500.3 355.63 L502.34 355.37 L504.38 355.12 L506.42 354.87 L508.46 354.63 L510.5 354.39 L512.55 354.15 L514.59 353.92 L516.63 353.7 L518.68 353.47 L520.72 353.26 L522.76 353.04 L524.81 352.83 L526.85 352.63 L528.9 352.43 L530.94 352.23 L532.99 352.04 L535.04 351.86 L537.08 351.68 L539.13 351.5 L541.18 351.33 L543.23 351.17 L545.28 351 L547.33 350.84 L549.37 350.68 L551.42 350.52 L553.47 350.35 L555.52 350.19 L557.57 350.02 L559.62 349.85 L561.66 349.68 L563.71 349.5 L565.76 349.33 L567.81 349.15 L569.86 348.98 L571.9 348.8 L573.95 348.63 L576 348.45 L578.05 348.27 L580.09 348.1 L582.14 347.92 L584.19 347.74 L586.24 347.56 L588.28 347.38 L590.33 347.2 L592.38 347.02 L594.42 346.83 L596.47 346.65 L598.52 346.46 L600.56 346.28 L602.61 346.09 L604.66 345.9 L606.7 345.7 L608.75 345.51 L610.79 345.31 L612.84 345.11 L614.88 344.91 L616.93 344.71 L618.97 344.5 L621.02 344.3 L623.06 344.1 L625.11 343.89 L627.15 343.69 L629.2 343.49 L631.24 343.29 L633.29 343.08 L635.33 342.88 L637.38 342.68 L639.43 342.48 L641.47 342.29 L643.52 342.09 L645.56 341.9 L647.61 341.71 L649.66 341.52 L651.7 341.34 L653.75 341.15 L655.8 340.97 L657.84 340.79 L659.89 340.62 L661.94 340.44 L663.99 340.26 L666.03 340.09 L668.08 339.92 L670.13 339.74 L672.18 339.57 L674.22 339.4 L676.27 339.23 L678.32 339.06 L680.37 338.9 L682.42 338.73 L684.47 338.56 L686.51 338.39 L688.56 338.23 L690.61 338.06 L692.66 337.89 L694.71 337.72 L696.76 337.56 L698.8 337.39 L700.85 337.22 L702.9 337.05 L704.95 336.88 L707 336.71 L709.04 336.54 L711.09 336.36 L713.14 336.19 L715.19 336.01 L717.23 335.84 L719.28 335.66 L721.33 335.49 L723.38 335.32 L725.43 335.15 L727.48 334.98 L729.52 334.81 L731.57 334.64 L733.62 334.47 L735.67 334.29 L737.72 334.11 L739.76 333.93 L741.81 333.74 L743.86 333.55 L745.9 333.35 L747.94 333.14 L749.99 332.93 L752.03 332.71 L754.07 332.48 L756.11 332.24 L758.15 331.99 L760.19 331.74 L762.23 331.49 L764.27 331.23 L766.31 330.96 L768.34 330.69 L770.38 330.41 L772.42 330.13 L774.45 329.85 L776.49 329.56 L778.53 329.27 L780.56 328.98 L782.59 328.68 L784.63 328.39 L786.66 328.09 L788.7 327.79 L790.73 327.5 L792.76 327.2 L794.79 326.9 L796.83 326.59 L798.86 326.29 L800.89 325.98 L802.92 325.67 L804.95 325.35 L806.98 325.04 L809.01 324.72 L811.05 324.39 L813.08 324.07 L815.1 323.74 L817.13 323.41 L819.16 323.08 L821.19 322.75 L823.22 322.41 L825.25 322.07 L827.27 321.72 L829.3 321.38 L831.32 321.03 L833.35 320.67 L835.37 320.32 L837.4 319.96 L839.42 319.6 L841.44 319.23 L843.46 318.86 L845.48 318.49 L847.5 318.12 L849.52 317.74 L851.54 317.36 L853.56 316.98 L855.58 316.59 L857.6 316.2 L859.61 315.8 L861.63 315.4 L863.65 315 L865.66 314.59 L867.68 314.18 L869.69 313.76 L871.71 313.34 L873.72 312.91 L875.73 312.47 L877.74 312.03 L879.74 311.59 L881.75 311.13 L883.75 310.68 L885.75 310.21 L887.75 309.74 L889.74 309.26 L891.74 308.77 L893.74 308.29 L895.74 307.8 L897.75 307.31 L899.76 306.81 L901.78 306.31 L903.79 305.79 L905.79 305.27 L907.79 304.73 L909.78 304.17 L911.76 303.6 L913.73 303 L915.69 302.39 L917.62 301.75 L919.54 301.08 L921.44 300.39 L923.31 299.66 L925.18 298.88 L927.04 298.05 L928.9 297.18 L930.75 296.26 L932.59 295.29 L934.42 294.29 L936.23 293.25 L938.02 292.18 L939.8 291.08 L941.55 289.96 L943.28 288.81 L944.99 287.64 L946.67 286.46 L948.31 285.26 L949.93 284.06 L951.52 282.82 L953.09 281.54 L954.65 280.21 L956.18 278.85 L957.7 277.44 L959.2 276.01 L960.68 274.54 L962.13 273.05 L963.56 271.53 L964.97 270 L966.34 268.45 L967.69 266.89 L969.01 265.32 L970.31 263.74 L971.57 262.15 L972.8 260.53 L974.02 258.88 L975.21 257.2 L976.38 255.5 L977.52 253.78 L978.64 252.05 L979.75 250.29 L980.83 248.53 L981.9 246.76 L982.94 244.99 L983.97 243.22 L984.99 241.44 L986 239.65 L987 237.85 L987.98 236.04 L988.95 234.22 L989.91 232.39 L990.84 230.55 L991.75 228.7 L992.64 226.84 L993.5 224.97 L994.33 223.1 L995.13 221.21 L995.89 219.32 L996.64 217.42 L997.36 215.5 L998.07 213.58 L998.76 211.64 L999.43 209.7 L1000.09 207.74 L1000.73 205.78 L1001.36 203.82 L1001.98 201.85 L1002.58 199.88 L1003.17 197.91 L1003.75 195.93 L1004.32 193.96 L1004.89 191.99 L1005.44 190.01 L1005.99 188.03 L1006.52 186.05 L1007.05 184.06 L1007.57 182.07 L1008.08 180.07 L1008.58 178.08 L1009.06 176.08 L1009.54 174.08 L1010 172.07 L1010.46 170.07 L1010.9 168.06 L1011.33 166.06 L1011.74 164.05 L1012.15 162.03 L1012.55 160.02 L1012.93 158 L1013.31 155.98 L1013.69 153.96 L1014.05 151.94 L1014.41 149.91 L1014.76 147.89 L1015.11 145.86 L1015.45 143.83 L1015.79 141.8 L1016.13 139.77 L1016.46 137.75 L1016.79 135.72 L1017.12 133.69 L1017.44 131.66 L1017.77 129.63 L1018.08 127.6 L1018.4 125.57 L1018.71 123.54 L1019.01 121.51 L1019.32 119.47 L1019.62 117.44 L1019.91 115.41 L1020.21 113.37 L1020.5 111.34 L1020.79 109.3 L1021.08 107.27 L1021.37 105.23 L1021.66 103.2 L1021.95 101.16 L1022.23 99.13 L1022.52 97.09 L1022.81 95.06 L1023.09 93.02 L1023.37 90.99 L1023.65 88.95 L1023.93 86.92 L1024.21 84.88 L1024.48 82.84 L1024.75 80.81 L1025.03 78.77 L1025.3 76.73 L1025.57 74.69 L1025.84 72.66 L1026.11 70.62 L1026.38 68.58 L1026.65 66.55 L1026.93 64.51 L1027.2 62.47 L1027.48 60.44 L1027.75 58.4 L1028.03 56.36 L1028.31 54.33 L1028.58 52.29 L1028.86 50.25 L1029.14 48.22 L1029.41 46.18 L1029.69 44.15 L1029.97 42.11 L1030.24 40.07 L1030.52 38.04 L1030.8 36" fill="none" stroke="#ff0000" stroke-width="12.4" stroke-linejoin="round" stroke-linecap="butt" stroke-dasharray="33.5 6.3 17.9 6.5" stroke-dashoffset="-63.55"/>
<path d="M223 700 L223.26 698.07 L223.53 696.14 L223.79 694.21 L224.06 692.28 L224.32 690.35 L224.58 688.42 L224.85 686.49 L225.11 684.57 L225.37 682.64 L225.64 680.71 L225.9 678.78 L226.16 676.85 L226.42 674.92 L226.69 672.99 L226.95 671.06 L227.21 669.13 L227.47 667.2 L227.73 665.27 L227.99 663.34 L228.25 661.41 L228.51 659.48 L228.77 657.55 L229.03 655.62 L229.28 653.69 L229.54 651.76 L229.8 649.83 L230.05 647.9 L230.31 645.97 L230.57 644.04 L230.83 642.11 L231.09 640.18 L231.35 638.25 L231.61 636.32 L231.87 634.39 L232.14 632.46 L232.41 630.53 L232.67 628.6 L232.94 626.67 L233.21 624.75 L233.49 622.82 L233.76 620.89 L234.03 618.96 L234.31 617.03 L234.58 615.11 L234.86 613.18 L235.13 611.25 L235.41 609.32 L235.69 607.4 L235.97 605.47 L236.25 603.54 L236.54 601.61 L236.82 599.69 L237.1 597.76 L237.39 595.84 L237.68 593.91 L237.97 591.98 L238.26 590.06 L238.55 588.13 L238.84 586.21 L239.13 584.28 L239.43 582.36 L239.72 580.43 L240.02 578.51 L240.31 576.58 L240.6 574.65 L240.89 572.73 L241.18 570.8 L241.47 568.87 L241.76 566.95 L242.05 565.02 L242.35 563.09 L242.65 561.17 L242.95 559.24 L243.25 557.32 L243.56 555.4 L243.87 553.47 L244.19 551.55 L244.51 549.63 L244.84 547.71 L245.17 545.8 L245.51 543.88 L245.86 541.97 L246.22 540.05 L246.58 538.14 L246.95 536.23 L247.35 534.33 L247.78 532.43 L248.22 530.53 L248.68 528.64 L249.13 526.74 L249.58 524.85 L250.02 522.95 L250.43 521.05 L250.82 519.14 L251.19 517.23 L251.55 515.31 L251.91 513.4 L252.27 511.48 L252.64 509.57 L253.03 507.66 L253.45 505.76 L253.9 503.87 L254.38 501.99 L254.9 500.11 L255.43 498.24 L255.98 496.37 L256.54 494.5 L257.1 492.63 L257.65 490.76 L258.19 488.89 L258.72 487.02 L259.24 485.14 L259.77 483.26 L260.3 481.39 L260.85 479.52 L261.4 477.65 L261.98 475.8 L262.58 473.95 L263.21 472.11 L263.86 470.27 L264.53 468.44 L265.22 466.62 L265.92 464.8 L266.63 462.99 L267.35 461.18 L268.07 459.37 L268.8 457.56 L269.52 455.74 L270.24 453.93 L270.98 452.12 L271.74 450.31 L272.52 448.53 L273.33 446.76 L274.18 445.02 L275.07 443.31 L276.03 441.63 L277.05 439.98 L278.11 438.35 L279.21 436.73 L280.32 435.12 L281.43 433.51 L282.52 431.89 L283.59 430.25 L284.62 428.6 L285.64 426.93 L286.65 425.25 L287.67 423.58 L288.71 421.92 L289.77 420.29 L290.87 418.7 L292.03 417.16 L293.24 415.66 L294.51 414.19 L295.81 412.74 L297.16 411.32 L298.54 409.92 L299.94 408.55 L301.36 407.21 L302.79 405.9 L304.24 404.61 L305.72 403.34 L307.22 402.1 L308.75 400.87 L310.3 399.68 L311.86 398.51 L313.45 397.38 L315.04 396.27 L316.66 395.2 L318.3 394.16 L319.96 393.13 L321.63 392.14 L323.33 391.16 L325.03 390.21 L326.75 389.28 L328.47 388.38 L330.2 387.49 L331.94 386.62 L333.69 385.76 L335.45 384.93 L337.23 384.11 L339.01 383.32 L340.8 382.54 L342.6 381.8 L344.4 381.08 L346.22 380.39 L348.05 379.72 L349.88 379.07 L351.73 378.44 L353.58 377.83 L355.43 377.23 L357.29 376.64 L359.15 376.05 L361.01 375.47 L362.87 374.9 L364.73 374.33 L366.6 373.78 L368.48 373.24 L370.35 372.71 L372.23 372.22 L374.12 371.74 L376.01 371.3 L377.91 370.87 L379.81 370.46 L381.72 370.07 L383.63 369.69 L385.55 369.31 L387.46 368.94 L389.37 368.58 L391.29 368.21 L393.2 367.84 L395.11 367.48 L397.03 367.12 L398.94 366.77 L400.86 366.43 L402.78 366.09 L404.7 365.77 L406.62 365.47 L408.54 365.17 L410.47 364.88 L412.4 364.6 L414.33 364.32 L416.26 364.06 L418.19 363.8 L420.12 363.56 L422.05 363.34 L423.99 363.13 L425.92 362.94 L427.86 362.76 L429.8 362.58 L431.74 362.41 L433.68 362.24 L435.62 362.06 L437.56 361.87 L439.5 361.67 L441.43 361.45 L443.37 361.23 L445.3 361 L447.24 360.78 L449.17 360.56 L451.11 360.36 L453.05 360.18 L454.99 360.02 L456.93 359.87 L458.87 359.73 L460.81 359.6 L462.75 359.47 L464.7 359.35 L466.64 359.24 L468.59 359.12 L470.53 359.01 L472.48 358.9 L474.42 358.8 L476.37 358.69 L478.31 358.58 L480.26 358.47 L482.2 358.36 L484.14 358.25 L486.09 358.13 L488.03 358.01 L489.98 357.89 L491.92 357.76 L493.86 357.64 L495.81 357.51 L497.75 357.38 L499.69 357.25 L501.63 357.12 L503.58 357 L505.52 356.87 L507.46 356.75 L509.41 356.63 L511.35 356.51 L513.3 356.39 L515.24 356.28 L517.18 356.17 L519.13 356.07 L521.07 355.97 L523.02 355.87 L524.96 355.77 L526.91 355.68 L528.85 355.58 L530.8 355.49 L532.74 355.4 L534.69 355.31 L536.63 355.22 L538.58 355.14 L540.53 355.05 L542.47 354.97 L544.42 354.9 L546.36 354.83 L548.31 354.76 L550.25 354.69 L552.2 354.63 L554.15 354.57 L556.09 354.51 L558.04 354.45 L559.99 354.39 L561.93 354.33 L563.88 354.28 L565.83 354.22 L567.77 354.17 L569.72 354.12 L571.67 354.07 L573.61 354.02 L575.56 353.97 L577.51 353.92 L579.45 353.88 L581.4 353.84 L583.35 353.79 L585.29 353.75 L587.24 353.71 L589.19 353.68 L591.13 353.64 L593.08 353.6 L595.03 353.57 L596.98 353.54 L598.92 353.51 L600.87 353.48 L602.82 353.45 L604.76 353.42 L606.71 353.39 L608.66 353.36 L610.6 353.34 L612.55 353.31 L614.5 353.29 L616.45 353.26 L618.39 353.24 L620.34 353.21 L622.29 353.19 L624.23 353.17 L626.18 353.14 L628.13 353.12 L630.08 353.1 L632.02 353.08 L633.97 353.05 L635.92 353.03 L637.86 353.01 L639.81 352.98 L641.76 352.96 L643.71 352.94 L645.65 352.91 L647.6 352.89 L649.55 352.87 L651.5 352.84 L653.44 352.82 L655.39 352.8 L657.34 352.78 L659.28 352.75 L661.23 352.73 L663.18 352.71 L665.13 352.69 L667.07 352.67 L669.02 352.65 L670.97 352.63 L672.91 352.61 L674.86 352.59 L676.81 352.57 L678.76 352.55 L680.7 352.53 L682.65 352.52 L684.6 352.5 L686.54 352.49 L688.49 352.47 L690.44 352.46 L692.39 352.44 L694.33 352.43 L696.28 352.42 L698.23 352.41 L700.18 352.4 L702.12 352.39 L704.07 352.38 L706.02 352.37 L707.96 352.36 L709.91 352.35 L711.86 352.34 L713.81 352.34 L715.75 352.33 L717.7 352.32 L719.65 352.31 L721.6 352.3 L723.54 352.29 L725.49 352.28 L727.44 352.28 L729.38 352.27 L731.33 352.26 L733.28 352.25 L735.23 352.24 L737.17 352.24 L739.12 352.23 L741.07 352.22 L743.02 352.21 L744.96 352.21 L746.91 352.2 L748.86 352.19 L750.8 352.19 L752.75 352.18 L754.7 352.18 L756.65 352.17 L758.59 352.16 L760.54 352.16 L762.49 352.15 L764.44 352.15 L766.38 352.14 L768.33 352.14 L770.28 352.13 L772.22 352.13 L774.17 352.13 L776.12 352.12 L778.07 352.12 L780.01 352.12 L781.96 352.11 L783.91 352.11 L785.86 352.11 L787.8 352.11 L789.75 352.1 L791.7 352.1 L793.65 352.1 L795.59 352.1 L797.54 352.1 L799.49 352.1 L801.43 352.1 L803.38 352.1 L805.33 352.1 L807.28 352.1 L809.22 352.1 L811.17 352.1 L813.12 352.1 L815.07 352.1 L817.01 352.1 L818.96 352.1 L820.91 352.1 L822.85 352.1 L824.8 352.1 L826.75 352.1 L828.7 352.1 L830.64 352.1 L832.59 352.1 L834.54 352.1 L836.49 352.1 L838.43 352.1 L840.38 352.1 L842.33 352.1 L844.27 352.1 L846.22 352.1 L848.17 352.1 L850.12 352.1 L852.06 352.1 L854.01 352.1 L855.96 352.1 L857.91 352.1 L859.85 352.1 L861.8 352.1 L863.75 352.1 L865.69 352.1 L867.64 352.1 L869.59 352.1 L871.54 352.1 L873.48 352.1 L875.43 352.1 L877.38 352.1 L879.33 352.1 L881.27 352.1 L883.22 352.1 L885.17 352.1 L887.12 352.1 L889.06 352.1 L891.01 352.1 L892.96 352.1 L894.9 352.1 L896.85 352.1 L898.8 352.1 L900.75 352.1 L902.69 352.1 L904.64 352.1 L906.59 352.1 L908.54 352.1 L910.48 352.1 L912.43 352.1 L914.38 352.1 L916.32 352.1 L918.27 352.1 L920.22 352.1 L922.17 352.1 L924.11 352.1 L926.06 352.1 L928.01 352.1 L929.96 352.1 L931.9 352.1 L933.85 352.1 L935.8 352.1 L937.74 352.1 L939.69 352.1 L941.64 352.1 L943.59 352.1 L945.53 352.1 L947.48 352.1 L949.43 352.1 L951.38 352.1 L953.32 352.1 L955.27 352.1 L957.22 352.1 L959.17 352.1 L961.11 352.1 L963.06 352.1 L965.01 352.1 L966.95 352.1 L968.9 352.1 L970.85 352.1 L972.8 352.1 L974.74 352.1 L976.69 352.1 L978.64 352.1 L980.59 352.1 L982.53 352.1 L984.48 352.1 L986.43 352.1 L988.37 352.1 L990.32 352.1 L992.27 352.1 L994.22 352.1 L996.16 352.1 L998.11 352.1 L1000.06 352.1 L1002.01 352.1 L1003.95 352.1 L1005.9 352.1 L1007.85 352.1 L1009.79 352.1 L1011.74 352.1 L1013.69 352.1 L1015.64 352.1 L1017.58 352.1 L1019.53 352.1 L1021.48 352.1 L1023.43 352.1 L1025.37 352.1 L1027.32 352.1 L1029.27 352.1 L1031.22 352.1 L1033.16 352.1 L1035.11 352.1 L1037.06 352.1 L1039 352.1 L1040.95 352.1 L1042.9 352.1 L1044.85 352.1 L1046.79 352.1 L1048.74 352.1 L1050.69 352.1 L1052.64 352.1 L1054.58 352.1 L1056.53 352.1 L1058.48 352.1 L1060.42 352.1 L1062.37 352.1 L1064.32 352.1 L1066.27 352.1 L1068.21 352.1 L1070.16 352.1 L1072.11 352.1 L1074.06 352.1 L1076 352.1 L1077.95 352.1 L1079.9 352.1 L1081.84 352.1 L1083.79 352.1 L1085.74 352.1 L1087.69 352.1 L1089.63 352.1 L1091.58 352.1 L1093.53 352.1 L1095.48 352.1 L1097.42 352.1 L1099.37 352.1 L1101.32 352.1 L1103.26 352.1 L1105.21 352.1 L1107.16 352.1 L1109.11 352.1 L1111.05 352.1 L1113 352.1 L1114.95 352.1 L1116.9 352.1 L1118.84 352.1 L1120.79 352.1 L1122.74 352.1 L1124.69 352.1 L1126.63 352.1 L1128.58 352.1 L1130.53 352.1 L1132.47 352.1 L1134.42 352.1 L1136.37 352.1 L1138.32 352.1 L1140.26 352.1 L1142.21 352.1 L1144.16 352.1 L1146.11 352.1 L1148.05 352.1 L1150 352.1" fill="none" stroke="#7f00ff" stroke-width="11.6" stroke-linejoin="round" stroke-linecap="butt" stroke-dasharray="9.2 6.8" stroke-dashoffset="-4.13"/>
</g>
<path d="M1328 147.08 L1624.33 202.95" fill="none" stroke="#000" stroke-width="9" stroke-linejoin="round" stroke-linecap="butt"/>
<path d="M1624.33 202.95 L1920.67 376.1" fill="none" stroke="#000" stroke-width="10.7" stroke-linejoin="round" stroke-linecap="butt"/>
<path d="M1920.67 376.1 L2217 700" fill="none" stroke="#000" stroke-width="10.4" stroke-linejoin="round" stroke-linecap="butt"/>
<polygon points="1319.23,128.78 1350.93,147.08 1319.23,165.38" fill="none" stroke="#000" stroke-width="8.8" stroke-linejoin="miter" stroke-miterlimit="10"/>
<polygon points="1612.37,184.65 1644.06,202.95 1612.37,221.25" fill="none" stroke="#000" stroke-width="8.8" stroke-linejoin="miter" stroke-miterlimit="10"/>
<polygon points="1910.1,357.8 1941.8,376.1 1910.1,394.4" fill="none" stroke="#000" stroke-width="8.8" stroke-linejoin="miter" stroke-miterlimit="10"/>
<polygon points="2208.33,681.7 2240.03,700 2208.33,718.3" fill="none" stroke="#000" stroke-width="8.8" stroke-linejoin="miter" stroke-miterlimit="10"/>
<path d="M1326 1000.5 L1626.33 1064.5" fill="none" stroke="#000" stroke-width="9.8" stroke-linejoin="round" stroke-linecap="butt"/>
<path d="M1626.33 1064.5 L1926.67 1217" fill="none" stroke="#000" stroke-width="11" stroke-linejoin="round" stroke-linecap="butt"/>
<path d="M1926.67 1217 L2227 1511" fill="none" stroke="#000" stroke-width="10.6" stroke-linejoin="round" stroke-linecap="butt"/>
<polygon points="1313.26,981.9 1345.48,1000.5 1313.26,1019.1" fill="none" stroke="#000" stroke-width="8.8" stroke-linejoin="miter" stroke-miterlimit="10"/>
<polygon points="1615.59,1045.9 1647.81,1064.5 1615.59,1083.1" fill="none" stroke="#000" stroke-width="8.8" stroke-linejoin="miter" stroke-miterlimit="10"/>
<polygon points="1915.93,1198.4 1948.14,1217 1915.93,1235.6" fill="none" stroke="#000" stroke-width="8.8" stroke-linejoin="miter" stroke-miterlimit="10"/>
<polygon points="2218.46,1492.4 2250.68,1511 2218.46,1529.6" fill="none" stroke="#000" stroke-width="8.8" stroke-linejoin="miter" stroke-miterlimit="10"/>
<g clip-path="url(#cC)">
<path d="M215.5 1020.3 L216.41 1021.43 L217.29 1022.59 L218.15 1023.75 L218.99 1024.94 L219.81 1026.13 L220.61 1027.34 L221.4 1028.55 L222.17 1029.77 L222.94 1031 L223.7 1032.23 L224.46 1033.46 L225.22 1034.69 L225.97 1035.92 L226.73 1037.15 L227.5 1038.37 L228.27 1039.58 L229.06 1040.78 L229.86 1041.98 L230.67 1043.16 L231.5 1044.32 L232.35 1045.47 L233.23 1046.6 L234.13 1047.72 L235.06 1048.81 L236.02 1049.87 L237.01 1050.91 L238.04 1051.93 L239.1 1052.91 L240.21 1053.87 L241.35 1054.79 L242.55 1055.68 L243.79 1056.53 L245.07 1057.3 L246.4 1057.93 L247.77 1058.35 L249.18 1058.5 L250.61 1058.34 L252.01 1057.93 L253.35 1057.32 L254.59 1056.58 L255.75 1055.72 L256.84 1054.77 L257.88 1053.76 L258.89 1052.7 L259.88 1051.63 L260.87 1050.56 L261.86 1049.5 L262.86 1048.45 L263.86 1047.4 L264.86 1046.36 L265.86 1045.32 L266.86 1044.29 L267.86 1043.26 L268.86 1042.23 L269.87 1041.2 L270.87 1040.17 L271.87 1039.14 L272.87 1038.1 L273.87 1037.07 L274.86 1036.03 L275.86 1034.99 L276.86 1033.95 L277.85 1032.91 L278.85 1031.87 L279.85 1030.82 L280.85 1029.78 L281.84 1028.74 L282.84 1027.7 L283.84 1026.66 L284.84 1025.62 L285.85 1024.58 L286.85 1023.54 L287.86 1022.5 L288.87 1021.47 L289.88 1020.44 L290.9 1019.41 L291.91 1018.38 L292.93 1017.36 L293.96 1016.34 L294.99 1015.33 L296.02 1014.32 L297.05 1013.31 L298.09 1012.3 L299.13 1011.3 L300.18 1010.31 L301.23 1009.32 L302.28 1008.33 L303.34 1007.34 L304.4 1006.36 L305.46 1005.38 L306.53 1004.41 L307.6 1003.44 L308.67 1002.47 L309.75 1001.51 L310.83 1000.55 L311.91 999.6 L312.99 998.64 L314.08 997.7 L315.17 996.75 L316.27 995.81 L317.37 994.87 L318.47 993.94 L319.57 993.01 L320.68 992.09 L321.79 991.16 L322.91 990.25 L324.02 989.33 L325.14 988.42 L326.27 987.51 L327.39 986.61 L328.52 985.71 L329.65 984.81 L330.79 983.92 L331.92 983.03 L333.06 982.14 L334.2 981.26 L335.35 980.38 L336.5 979.51 L337.65 978.63 L338.8 977.77 L339.96 976.9 L341.12 976.04 L342.28 975.18 L343.44 974.33 L344.61 973.48 L345.78 972.64 L346.95 971.8 L348.13 970.96 L349.31 970.13 L350.49 969.3 L351.68 968.47 L352.86 967.65 L354.05 966.84 L355.25 966.03 L356.45 965.22 L357.65 964.42 L358.85 963.62 L360.06 962.83 L361.27 962.04 L362.48 961.26 L363.7 960.49 L364.92 959.71 L366.14 958.95 L367.37 958.18 L368.6 957.43 L369.83 956.68 L371.07 955.93 L372.31 955.19 L373.55 954.45 L374.8 953.72 L376.05 953 L377.3 952.28 L378.56 951.57 L379.82 950.86 L381.09 950.16 L382.36 949.46 L383.63 948.78 L384.91 948.09 L386.19 947.42 L387.47 946.75 L388.75 946.09 L390.04 945.43 L391.34 944.78 L392.63 944.14 L393.93 943.51 L395.24 942.88 L396.54 942.26 L397.85 941.65 L399.17 941.05 L400.48 940.45 L401.8 939.87 L403.13 939.29 L404.45 938.72 L405.78 938.15 L407.12 937.6 L408.45 937.05 L409.79 936.52 L411.14 935.99 L412.48 935.47 L413.83 934.96 L415.19 934.46 L416.54 933.96 L417.9 933.48 L419.26 933.01 L420.63 932.55 L422 932.09 L423.37 931.65 L424.74 931.21 L426.12 930.79 L427.5 930.37 L428.88 929.96 L430.27 929.56 L431.66 929.16 L433.05 928.78 L434.44 928.4 L435.83 928.03 L437.23 927.67 L438.63 927.31 L440.03 926.96 L441.43 926.62 L442.84 926.28 L444.24 925.95 L445.65 925.63 L447.06 925.31 L448.47 925 L449.89 924.69 L451.3 924.39 L452.72 924.09 L454.13 923.8 L455.55 923.51 L456.97 923.22 L458.39 922.95 L459.81 922.67 L461.23 922.4 L462.66 922.13 L464.08 921.87 L465.5 921.62 L466.93 921.37 L468.36 921.12 L469.78 920.89 L471.21 920.65 L472.64 920.43 L474.07 920.21 L475.5 920 L476.93 919.79 L478.36 919.6 L479.8 919.41 L481.23 919.23 L482.66 919.06 L484.1 918.89 L485.53 918.74 L486.97 918.59 L488.4 918.46 L489.84 918.33 L491.28 918.21 L492.72 918.1 L494.15 918.01 L495.59 917.92 L497.03 917.85 L498.47 917.78 L499.91 917.73 L501.35 917.69 L502.79 917.66 L504.24 917.64 L505.68 917.64 L507.12 917.64 L508.56 917.66 L510 917.69 L511.45 917.73 L512.89 917.77 L514.33 917.83 L515.77 917.9 L517.22 917.98 L518.66 918.07 L520.1 918.17 L521.54 918.28 L522.98 918.39 L524.42 918.52 L525.86 918.65 L527.3 918.8 L528.74 918.95 L530.18 919.11 L531.61 919.28 L533.05 919.45 L534.48 919.64 L535.92 919.83 L537.35 920.03 L538.78 920.23 L540.21 920.45 L541.64 920.67 L543.07 920.89 L544.5 921.13 L545.92 921.37 L547.35 921.62 L548.77 921.87 L550.19 922.13 L551.61 922.4 L553.03 922.68 L554.45 922.96 L555.86 923.25 L557.28 923.55 L558.69 923.86 L560.1 924.17 L561.51 924.49 L562.91 924.82 L564.32 925.16 L565.72 925.5 L567.12 925.85 L568.52 926.21 L569.92 926.58 L571.31 926.95 L572.7 927.33 L574.09 927.72 L575.48 928.12 L576.86 928.53 L578.25 928.94 L579.63 929.36 L581 929.79 L582.38 930.23 L583.75 930.68 L585.12 931.13 L586.49 931.6 L587.86 932.07 L589.22 932.55 L590.58 933.04 L591.93 933.53 L593.29 934.03 L594.64 934.55 L595.99 935.06 L597.33 935.59 L598.68 936.13 L600.02 936.67 L601.35 937.22 L602.69 937.78 L604.02 938.34 L605.34 938.91 L606.67 939.49 L607.99 940.08 L609.31 940.68 L610.62 941.28 L611.93 941.89 L613.24 942.5 L614.55 943.13 L615.85 943.76 L617.15 944.4 L618.44 945.04 L619.73 945.69 L621.02 946.35 L622.3 947.02 L623.58 947.69 L624.86 948.37 L626.13 949.06 L627.4 949.75 L628.67 950.45 L629.93 951.16 L631.19 951.87 L632.44 952.59 L633.69 953.32 L634.94 954.05 L636.18 954.79 L637.42 955.53 L638.65 956.29 L639.88 957.04 L641.11 957.81 L642.33 958.57 L643.55 959.35 L644.77 960.13 L645.98 960.92 L647.19 961.71 L648.39 962.51 L649.59 963.31 L650.79 964.12 L651.98 964.93 L653.17 965.75 L654.36 966.57 L655.54 967.4 L656.72 968.23 L657.9 969.07 L659.07 969.91 L660.24 970.76 L661.4 971.61 L662.56 972.47 L663.72 973.33 L664.87 974.2 L666.02 975.07 L667.17 975.94 L668.31 976.82 L669.45 977.7 L670.59 978.58 L671.73 979.47 L672.86 980.36 L673.98 981.26 L675.11 982.16 L676.23 983.07 L677.34 983.98 L678.45 984.89 L679.56 985.81 L680.67 986.73 L681.77 987.66 L682.87 988.59 L683.97 989.52 L685.06 990.46 L686.15 991.41 L687.23 992.36 L688.31 993.31 L689.39 994.27 L690.47 995.23 L691.54 996.2 L692.6 997.17 L693.67 998.15 L694.73 999.13 L695.79 1000.11 L696.84 1001.11 L697.89 1002.1 L698.93 1003.1 L699.98 1004.11 L701.01 1005.12 L702.05 1006.14 L703.08 1007.16 L704.11 1008.19 L705.13 1009.22 L706.15 1010.26 L707.17 1011.3 L708.18 1012.35 L709.19 1013.4 L710.2 1014.46 L711.2 1015.52 L712.2 1016.58 L713.2 1017.64 L714.2 1018.71 L715.19 1019.78 L716.18 1020.84 L717.17 1021.91 L718.16 1022.98 L719.14 1024.05 L720.13 1025.11 L721.11 1026.18 L722.09 1027.24 L723.07 1028.3 L724.05 1029.36 L725.03 1030.41 L726.01 1031.46 L726.98 1032.5 L727.96 1033.54 L728.94 1034.57 L729.91 1035.6 L730.89 1036.62 L731.87 1037.63 L732.84 1038.64 L733.82 1039.64 L734.8 1040.63 L735.78 1041.61 L736.77 1042.59 L737.76 1043.57 L738.76 1044.54 L739.77 1045.52 L740.78 1046.49 L741.81 1047.47 L742.85 1048.45 L743.91 1049.43 L744.98 1050.41 L746.06 1051.41 L747.16 1052.41 L748.28 1053.41 L749.43 1054.43 L750.59 1055.46 L751.78 1056.5 L752.98 1057.54 L754.21 1058.54 L755.46 1059.48 L756.73 1060.31 L758.01 1061.02 L759.3 1061.55 L760.6 1061.89 L761.92 1062 L763.23 1061.86 L764.55 1061.48 L765.85 1060.89 L767.13 1060.13 L768.37 1059.22 L769.56 1058.21 L770.69 1057.13 L771.75 1056 L772.74 1054.85 L773.66 1053.68 L774.53 1052.48 L775.34 1051.27 L776.1 1050.04 L776.83 1048.8 L777.52 1047.54 L778.18 1046.28 L778.83 1045.01 L779.46 1043.73 L780.09 1042.45 L780.71 1041.17 L781.34 1039.9 L781.98 1038.63 L782.65 1037.36 L783.33 1036.1 L784.02 1034.85 L784.74 1033.6 L785.46 1032.35 L786.19 1031.11 L786.94 1029.87 L787.69 1028.63 L788.44 1027.4 L789.19 1026.16 L789.95 1024.92 L790.7 1023.68 L791.44 1022.44 L792.18 1021.19 L792.91 1019.94 L793.63 1018.68 L794.34 1017.42 L795.03 1016.16 L795.7 1014.88 L796.36 1013.6 L796.99 1012.3 L797.6 1011" fill="none" stroke="#000" stroke-width="11.7" stroke-linejoin="round" stroke-linecap="butt"/>
</g>
<ellipse cx="215.5" cy="1020.5" rx="14" ry="15" fill="none" stroke="#ff00ff" stroke-width="6.6"/>
<ellipse cx="254.5" cy="1064" rx="14" ry="15" fill="none" stroke="#ff00ff" stroke-width="6.6"/>
<ellipse cx="293.8" cy="1026" rx="14" ry="15" fill="none" stroke="#ff00ff" stroke-width="6.6"/>
<ellipse cx="336.9" cy="989.5" rx="14" ry="15" fill="none" stroke="#ff00ff" stroke-width="6.6"/>
<ellipse cx="375.7" cy="963" rx="14" ry="15" fill="none" stroke="#ff00ff" stroke-width="6.6"/>
<ellipse cx="418.2" cy="947.5" rx="14" ry="15" fill="none" stroke="#ff00ff" stroke-width="6.6"/>
<ellipse cx="457.5" cy="939.5" rx="14" ry="15" fill="none" stroke="#ff00ff" stroke-width="6.6"/>
<ellipse cx="500.7" cy="935.5" rx="14" ry="15" fill="none" stroke="#ff00ff" stroke-width="6.6"/>
<ellipse cx="540.8" cy="939.5" rx="14" ry="15" fill="none" stroke="#ff00ff" stroke-width="6.6"/>
<ellipse cx="582.8" cy="952.5" rx="14" ry="15" fill="none" stroke="#ff00ff" stroke-width="6.6"/>
<ellipse cx="621.9" cy="971.9" rx="14" ry="15" fill="none" stroke="#ff00ff" stroke-width="6.6"/>
<ellipse cx="664.7" cy="1000.1" rx="14" ry="15" fill="none" stroke="#ff00ff" stroke-width="6.6"/>
<ellipse cx="708" cy="1040.2" rx="14" ry="15" fill="none" stroke="#ff00ff" stroke-width="6.6"/>
<ellipse cx="747.2" cy="1088.4" rx="14" ry="15" fill="none" stroke="#ff00ff" stroke-width="6.6"/>
<ellipse cx="790.3" cy="1068.4" rx="14" ry="15" fill="none" stroke="#ff00ff" stroke-width="6.6"/>
<rect x="203.7" y="1007.75" width="23.6" height="25.5" fill="none" stroke="#0000ff" stroke-width="6.2"/>
<rect x="242.9" y="1057.75" width="23.6" height="25.5" fill="none" stroke="#0000ff" stroke-width="6.2"/>
<rect x="282" y="1020.25" width="23.6" height="25.5" fill="none" stroke="#0000ff" stroke-width="6.2"/>
<rect x="325" y="988.25" width="23.6" height="25.5" fill="none" stroke="#0000ff" stroke-width="6.2"/>
<rect x="364.1" y="971.25" width="23.6" height="25.5" fill="none" stroke="#0000ff" stroke-width="6.2"/>
<rect x="407.1" y="959.25" width="23.6" height="25.5" fill="none" stroke="#0000ff" stroke-width="6.2"/>
<rect x="446.2" y="955.25" width="23.6" height="25.5" fill="none" stroke="#0000ff" stroke-width="6.2"/>
<rect x="489.2" y="959.25" width="23.6" height="25.5" fill="none" stroke="#0000ff" stroke-width="6.2"/>
<rect x="528.2" y="971.25" width="23.6" height="25.5" fill="none" stroke="#0000ff" stroke-width="6.2"/>
<rect x="571.1" y="987.05" width="23.6" height="25.5" fill="none" stroke="#0000ff" stroke-width="6.2"/>
<rect x="610.1" y="1007.45" width="23.6" height="25.5" fill="none" stroke="#0000ff" stroke-width="6.2"/>
<rect x="653.3" y="1039.85" width="23.6" height="25.5" fill="none" stroke="#0000ff" stroke-width="6.2"/>
<rect x="692.9" y="1079.35" width="23.6" height="25.5" fill="none" stroke="#0000ff" stroke-width="6.2"/>
<rect x="735.7" y="1132.15" width="23.6" height="25.5" fill="none" stroke="#0000ff" stroke-width="6.2"/>
<rect x="778.3" y="1181.45" width="23.6" height="25.5" fill="none" stroke="#0000ff" stroke-width="6.2"/>
<polygon points="204.99,1002.3 236.52,1020.5 204.99,1038.7" fill="none" stroke="#ff0000" stroke-width="6.3" stroke-linejoin="miter" stroke-miterlimit="10"/>
<polygon points="243.79,1061.8 275.32,1080 243.79,1098.2" fill="none" stroke="#ff0000" stroke-width="6.3" stroke-linejoin="miter" stroke-miterlimit="10"/>
<polygon points="286.79,1034.8 318.32,1053 286.79,1071.2" fill="none" stroke="#ff0000" stroke-width="6.3" stroke-linejoin="miter" stroke-miterlimit="10"/>
<polygon points="325.99,1009.3 357.52,1027.5 325.99,1045.7" fill="none" stroke="#ff0000" stroke-width="6.3" stroke-linejoin="miter" stroke-miterlimit="10"/>
<polygon points="368.99,994.3 400.52,1012.5 368.99,1030.7" fill="none" stroke="#ff0000" stroke-width="6.3" stroke-linejoin="miter" stroke-miterlimit="10"/>
<polygon points="408.19,990.1 439.72,1008.3 408.19,1026.5" fill="none" stroke="#ff0000" stroke-width="6.3" stroke-linejoin="miter" stroke-miterlimit="10"/>
<polygon points="451.09,994.3 482.62,1012.5 451.09,1030.7" fill="none" stroke="#ff0000" stroke-width="6.3" stroke-linejoin="miter" stroke-miterlimit="10"/>
<polygon points="490.24,1002 521.77,1020.2 490.24,1038.4" fill="none" stroke="#ff0000" stroke-width="6.3" stroke-linejoin="miter" stroke-miterlimit="10"/>
<polygon points="533.19,1015.3 564.72,1033.5 533.19,1051.7" fill="none" stroke="#ff0000" stroke-width="6.3" stroke-linejoin="miter" stroke-miterlimit="10"/>
<polygon points="573.09,1034.2 604.62,1052.4 573.09,1070.6" fill="none" stroke="#ff0000" stroke-width="6.3" stroke-linejoin="miter" stroke-miterlimit="10"/>
<polygon points="616.19,1054.2 647.72,1072.4 616.19,1090.6" fill="none" stroke="#ff0000" stroke-width="6.3" stroke-linejoin="miter" stroke-miterlimit="10"/>
<polygon points="655.49,1074.4 687.02,1092.6 655.49,1110.8" fill="none" stroke="#ff0000" stroke-width="6.3" stroke-linejoin="miter" stroke-miterlimit="10"/>
<polygon points="698.19,1111.2 729.72,1129.4 698.19,1147.6" fill="none" stroke="#ff0000" stroke-width="6.3" stroke-linejoin="miter" stroke-miterlimit="10"/>
<polygon points="737.29,1142.2 768.82,1160.4 737.29,1178.6" fill="none" stroke="#ff0000" stroke-width="6.3" stroke-linejoin="miter" stroke-miterlimit="10"/>
<polygon points="780.69,1182.7 812.22,1200.9 780.69,1219.1" fill="none" stroke="#ff0000" stroke-width="6.3" stroke-linejoin="miter" stroke-miterlimit="10"/>
<polygon points="819.79,1227 851.32,1245.2 819.79,1263.4" fill="none" stroke="#ff0000" stroke-width="6.3" stroke-linejoin="miter" stroke-miterlimit="10"/>
<polygon points="862.49,1279.7 894.02,1297.9 862.49,1316.1" fill="none" stroke="#ff0000" stroke-width="6.3" stroke-linejoin="miter" stroke-miterlimit="10"/>
<polygon points="905.49,1339.8 937.02,1358 905.49,1376.2" fill="none" stroke="#ff0000" stroke-width="6.3" stroke-linejoin="miter" stroke-miterlimit="10"/>
<polygon points="944.99,1412.5 976.52,1430.7 944.99,1448.9" fill="none" stroke="#ff0000" stroke-width="6.3" stroke-linejoin="miter" stroke-miterlimit="10"/>
<polygon points="987.49,1480.6 1019.02,1498.8 987.49,1517" fill="none" stroke="#ff0000" stroke-width="6.3" stroke-linejoin="miter" stroke-miterlimit="10"/>
<path d="M197 1020.3H234M215.5 1001.8V1038.8" stroke="#7f00ff" stroke-width="6.8" fill="none"/>
<path d="M236.5 1092.8H273.5M255 1074.3V1111.3" stroke="#7f00ff" stroke-width="6.8" fill="none"/>
<path d="M275.3 1068.5H312.3M293.8 1050V1087" stroke="#7f00ff" stroke-width="6.8" fill="none"/>
<path d="M318.4 1052.6H355.4M336.9 1034.1V1071.1" stroke="#7f00ff" stroke-width="6.8" fill="none"/>
<path d="M357.2 1044.4H394.2M375.7 1025.9V1062.9" stroke="#7f00ff" stroke-width="6.8" fill="none"/>
<path d="M400.5 1048.4H437.5M419 1029.9V1066.9" stroke="#7f00ff" stroke-width="6.8" fill="none"/>
<path d="M439.1 1052.6H476.1M457.6 1034.1V1071.1" stroke="#7f00ff" stroke-width="6.8" fill="none"/>
<path d="M482.5 1064.4H519.5M501 1045.9V1082.9" stroke="#7f00ff" stroke-width="6.8" fill="none"/>
<path d="M521.4 1076.6H558.4M539.9 1058.1V1095.1" stroke="#7f00ff" stroke-width="6.8" fill="none"/>
<path d="M564.4 1092.6H601.4M582.9 1074.1V1111.1" stroke="#7f00ff" stroke-width="6.8" fill="none"/>
<path d="M607.4 1104.3H644.4M625.9 1085.8V1122.8" stroke="#7f00ff" stroke-width="6.8" fill="none"/>
<path d="M646.6 1120.3H683.6M665.1 1101.8V1138.8" stroke="#7f00ff" stroke-width="6.8" fill="none"/>
<path d="M689.5 1136.7H726.5M708 1118.2V1155.2" stroke="#7f00ff" stroke-width="6.8" fill="none"/>
<path d="M728.7 1156.7H765.7M747.2 1138.2V1175.2" stroke="#7f00ff" stroke-width="6.8" fill="none"/>
<path d="M771.6 1172H808.6M790.1 1153.5V1190.5" stroke="#7f00ff" stroke-width="6.8" fill="none"/>
<path d="M810.9 1189.5H847.9M829.4 1171V1208" stroke="#7f00ff" stroke-width="6.8" fill="none"/>
<path d="M854 1209.4H891M872.5 1190.9V1227.9" stroke="#7f00ff" stroke-width="6.8" fill="none"/>
<path d="M892.9 1225.2H929.9M911.4 1206.7V1243.7" stroke="#7f00ff" stroke-width="6.8" fill="none"/>
<path d="M935.7 1245.2H972.7M954.2 1226.7V1263.7" stroke="#7f00ff" stroke-width="6.8" fill="none"/>
<path d="M978.7 1261.8H1015.7M997.2 1243.3V1280.3" stroke="#7f00ff" stroke-width="6.8" fill="none"/>
<path d="M1018.4 1281.5H1055.4M1036.9 1263V1300" stroke="#7f00ff" stroke-width="6.8" fill="none"/>
<path d="M1061.1 1297.6H1098.1M1079.6 1279.1V1316.1" stroke="#7f00ff" stroke-width="6.8" fill="none"/>
<g clip-path="url(#cC)">
<path d="M215.5 1020.5 L216.38 1021.11 L217.22 1021.77 L218.03 1022.48 L218.8 1023.25 L219.55 1024.06 L220.27 1024.92 L220.97 1025.82 L221.64 1026.76 L222.29 1027.73 L222.93 1028.73 L223.54 1029.77 L224.14 1030.84 L224.73 1031.92 L225.3 1033.03 L225.87 1034.16 L226.43 1035.31 L226.98 1036.47 L227.53 1037.64 L228.07 1038.81 L228.62 1039.99 L229.17 1041.17 L229.72 1042.36 L230.28 1043.53 L230.84 1044.7 L231.42 1045.86 L232.01 1047.01 L232.61 1048.15 L233.22 1049.26 L233.86 1050.36 L234.51 1051.43 L235.18 1052.47 L235.88 1053.48 L236.6 1054.46 L237.35 1055.41 L238.13 1056.32 L238.94 1057.19 L239.78 1058.01 L240.66 1058.79 L241.57 1059.52 L242.52 1060.19 L243.51 1060.81 L244.55 1061.38 L245.61 1061.91 L246.72 1062.39 L247.85 1062.86 L249 1063.3 L250.18 1063.72 L251.36 1064.07 L252.54 1064.28 L253.69 1064.28 L254.8 1064.05 L255.88 1063.61 L256.93 1063.01 L257.95 1062.27 L258.94 1061.45 L259.9 1060.59 L260.84 1059.72 L261.75 1058.85 L262.63 1057.98 L263.5 1057.11 L264.35 1056.25 L265.19 1055.38 L266.01 1054.51 L266.82 1053.65 L267.63 1052.78 L268.42 1051.92 L269.21 1051.05 L270 1050.19 L270.79 1049.32 L271.58 1048.46 L272.37 1047.59 L273.17 1046.73 L273.98 1045.86 L274.79 1045 L275.6 1044.13 L276.42 1043.27 L277.24 1042.41 L278.07 1041.54 L278.9 1040.68 L279.73 1039.82 L280.57 1038.96 L281.41 1038.1 L282.26 1037.24 L283.11 1036.39 L283.96 1035.53 L284.82 1034.68 L285.68 1033.83 L286.54 1032.98 L287.4 1032.13 L288.27 1031.28 L289.14 1030.44 L290.01 1029.6 L290.89 1028.76 L291.76 1027.92 L292.64 1027.09 L293.52 1026.26 L294.4 1025.43 L295.29 1024.61 L296.17 1023.79 L297.06 1022.97 L297.95 1022.15 L298.84 1021.34 L299.73 1020.53 L300.63 1019.72 L301.52 1018.92 L302.42 1018.12 L303.32 1017.32 L304.22 1016.52 L305.12 1015.72 L306.02 1014.93 L306.93 1014.14 L307.83 1013.35 L308.74 1012.57 L309.65 1011.78 L310.56 1011 L311.47 1010.22 L312.39 1009.45 L313.3 1008.67 L314.22 1007.9 L315.13 1007.12 L316.05 1006.35 L316.97 1005.59 L317.89 1004.82 L318.82 1004.05 L319.74 1003.29 L320.67 1002.53 L321.59 1001.77 L322.52 1001.01 L323.45 1000.25 L324.38 999.49 L325.31 998.74 L326.25 997.98 L327.18 997.23 L328.11 996.48 L329.05 995.73 L329.99 994.98 L330.93 994.23 L331.87 993.48 L332.81 992.73 L333.75 991.99 L334.69 991.24 L335.64 990.49 L336.58 989.75 L337.53 989 L338.48 988.26 L339.43 987.52 L340.38 986.78 L341.33 986.04 L342.28 985.3 L343.23 984.56 L344.19 983.83 L345.15 983.09 L346.11 982.36 L347.07 981.64 L348.03 980.91 L349 980.19 L349.97 979.47 L350.94 978.76 L351.91 978.05 L352.89 977.34 L353.87 976.64 L354.85 975.94 L355.83 975.24 L356.82 974.56 L357.81 973.87 L358.81 973.19 L359.8 972.52 L360.8 971.85 L361.81 971.19 L362.82 970.54 L363.83 969.89 L364.84 969.25 L365.86 968.61 L366.88 967.99 L367.91 967.37 L368.94 966.75 L369.98 966.15 L371.02 965.55 L372.06 964.96 L373.11 964.38 L374.16 963.81 L375.22 963.25 L376.28 962.7 L377.35 962.15 L378.42 961.62 L379.5 961.09 L380.58 960.57 L381.67 960.07 L382.76 959.57 L383.86 959.07 L384.95 958.59 L386.06 958.11 L387.16 957.65 L388.27 957.19 L389.39 956.73 L390.51 956.29 L391.63 955.85 L392.75 955.42 L393.88 955 L395.01 954.58 L396.14 954.17 L397.28 953.77 L398.41 953.38 L399.56 952.99 L400.7 952.6 L401.85 952.23 L402.99 951.86 L404.14 951.49 L405.3 951.13 L406.45 950.78 L407.61 950.43 L408.76 950.09 L409.92 949.75 L411.08 949.42 L412.24 949.1 L413.41 948.77 L414.57 948.46 L415.74 948.15 L416.9 947.84 L418.07 947.53 L419.23 947.23 L420.4 946.94 L421.57 946.65 L422.74 946.36 L423.91 946.08 L425.08 945.8 L426.25 945.53 L427.42 945.25 L428.59 944.99 L429.77 944.72 L430.94 944.46 L432.11 944.21 L433.29 943.96 L434.46 943.71 L435.64 943.46 L436.81 943.22 L437.99 942.98 L439.17 942.75 L440.35 942.51 L441.52 942.29 L442.7 942.06 L443.88 941.84 L445.06 941.62 L446.25 941.4 L447.43 941.19 L448.61 940.98 L449.79 940.78 L450.98 940.57 L452.16 940.37 L453.35 940.17 L454.53 939.98 L455.72 939.78 L456.9 939.59 L458.09 939.41 L459.28 939.22 L460.47 939.04 L461.66 938.86 L462.85 938.69 L464.04 938.51 L465.23 938.34 L466.42 938.18 L467.61 938.02 L468.8 937.86 L470 937.7 L471.19 937.55 L472.39 937.41 L473.58 937.26 L474.77 937.13 L475.97 936.99 L477.17 936.86 L478.36 936.74 L479.56 936.62 L480.76 936.51 L481.95 936.4 L483.15 936.3 L484.35 936.2 L485.55 936.11 L486.75 936.02 L487.95 935.94 L489.15 935.87 L490.35 935.8 L491.55 935.74 L492.75 935.69 L493.95 935.64 L495.15 935.6 L496.35 935.56 L497.55 935.54 L498.75 935.52 L499.95 935.5 L501.16 935.5 L502.36 935.5 L503.56 935.51 L504.76 935.53 L505.96 935.55 L507.17 935.59 L508.37 935.63 L509.57 935.67 L510.77 935.73 L511.97 935.79 L513.17 935.86 L514.37 935.93 L515.58 936.02 L516.78 936.11 L517.97 936.21 L519.17 936.32 L520.37 936.43 L521.57 936.55 L522.77 936.68 L523.96 936.81 L525.16 936.96 L526.35 937.11 L527.55 937.26 L528.74 937.43 L529.93 937.6 L531.12 937.78 L532.31 937.96 L533.5 938.15 L534.68 938.35 L535.87 938.56 L537.05 938.77 L538.24 939 L539.42 939.22 L540.6 939.46 L541.78 939.7 L542.95 939.95 L544.13 940.21 L545.3 940.47 L546.48 940.74 L547.65 941.02 L548.82 941.3 L549.98 941.59 L551.15 941.88 L552.31 942.19 L553.48 942.5 L554.64 942.81 L555.8 943.13 L556.95 943.46 L558.11 943.8 L559.26 944.14 L560.41 944.48 L561.56 944.84 L562.71 945.19 L563.86 945.56 L565 945.93 L566.15 946.31 L567.29 946.69 L568.43 947.08 L569.56 947.47 L570.7 947.87 L571.83 948.27 L572.96 948.68 L574.09 949.1 L575.22 949.52 L576.34 949.94 L577.47 950.37 L578.59 950.81 L579.71 951.25 L580.82 951.7 L581.94 952.15 L583.05 952.6 L584.16 953.06 L585.27 953.53 L586.38 954 L587.48 954.48 L588.58 954.96 L589.68 955.44 L590.78 955.93 L591.88 956.42 L592.97 956.92 L594.06 957.42 L595.15 957.93 L596.24 958.44 L597.33 958.96 L598.41 959.47 L599.49 960 L600.57 960.52 L601.65 961.06 L602.73 961.59 L603.8 962.13 L604.87 962.67 L605.95 963.22 L607.01 963.77 L608.08 964.32 L609.15 964.88 L610.21 965.44 L611.27 966.01 L612.33 966.58 L613.39 967.15 L614.44 967.72 L615.5 968.3 L616.55 968.88 L617.6 969.47 L618.65 970.05 L619.7 970.64 L620.74 971.24 L621.78 971.83 L622.83 972.43 L623.87 973.04 L624.9 973.64 L625.94 974.25 L626.98 974.86 L628.01 975.47 L629.04 976.09 L630.07 976.71 L631.1 977.33 L632.12 977.96 L633.15 978.59 L634.17 979.22 L635.19 979.85 L636.21 980.49 L637.23 981.13 L638.24 981.77 L639.26 982.42 L640.27 983.07 L641.28 983.72 L642.28 984.37 L643.29 985.03 L644.29 985.69 L645.3 986.36 L646.3 987.02 L647.29 987.69 L648.29 988.36 L649.28 989.04 L650.28 989.72 L651.27 990.4 L652.25 991.09 L653.24 991.77 L654.22 992.46 L655.2 993.16 L656.18 993.85 L657.16 994.55 L658.14 995.26 L659.11 995.96 L660.08 996.67 L661.05 997.38 L662.02 998.1 L662.99 998.81 L663.95 999.53 L664.91 1000.26 L665.87 1000.98 L666.82 1001.71 L667.78 1002.45 L668.73 1003.18 L669.68 1003.92 L670.63 1004.67 L671.57 1005.41 L672.51 1006.16 L673.45 1006.91 L674.39 1007.67 L675.32 1008.43 L676.25 1009.19 L677.18 1009.96 L678.1 1010.73 L679.03 1011.5 L679.94 1012.28 L680.86 1013.06 L681.77 1013.85 L682.68 1014.64 L683.58 1015.43 L684.49 1016.23 L685.38 1017.03 L686.28 1017.83 L687.17 1018.64 L688.06 1019.45 L688.94 1020.27 L689.82 1021.09 L690.7 1021.91 L691.57 1022.74 L692.44 1023.58 L693.3 1024.41 L694.16 1025.26 L695.01 1026.1 L695.86 1026.95 L696.71 1027.81 L697.55 1028.67 L698.39 1029.53 L699.22 1030.4 L700.05 1031.28 L700.88 1032.16 L701.69 1033.04 L702.51 1033.93 L703.32 1034.82 L704.12 1035.72 L704.92 1036.62 L705.72 1037.53 L706.5 1038.44 L707.29 1039.36 L708.07 1040.28 L708.84 1041.21 L709.61 1042.14 L710.37 1043.08 L711.13 1044.02 L711.89 1044.96 L712.64 1045.91 L713.38 1046.86 L714.13 1047.82 L714.87 1048.78 L715.6 1049.74 L716.34 1050.7 L717.07 1051.67 L717.8 1052.63 L718.53 1053.6 L719.26 1054.57 L719.98 1055.54 L720.71 1056.51 L721.43 1057.48 L722.16 1058.45 L722.88 1059.42 L723.6 1060.39 L724.33 1061.36 L725.05 1062.33 L725.78 1063.3 L726.5 1064.27 L727.23 1065.23 L727.96 1066.19 L728.69 1067.15 L729.42 1068.11 L730.16 1069.06 L730.9 1070.01 L731.64 1070.96 L732.39 1071.9 L733.13 1072.84 L733.89 1073.77 L734.64 1074.7 L735.4 1075.62 L736.17 1076.54 L736.94 1077.46 L737.71 1078.36 L738.49 1079.26 L739.28 1080.16 L740.07 1081.05 L740.87 1081.93 L741.67 1082.8 L742.49 1083.67 L743.31 1084.53 L744.13 1085.38 L744.96 1086.22 L745.81 1087.05 L746.65 1087.88 L747.51 1088.69 L748.38 1089.5 L749.26 1090.29 L750.15 1091.07 L751.06 1091.84 L752 1092.59 L752.95 1093.32 L753.93 1094.03 L754.93 1094.72 L755.97 1095.38 L757.04 1096.02 L758.15 1096.63 L759.28 1097.19 L760.43 1097.68 L761.59 1098.08 L762.76 1098.36 L763.92 1098.51 L765.07 1098.49 L766.2 1098.31 L767.31 1097.97 L768.4 1097.49 L769.45 1096.88 L770.48 1096.18 L771.48 1095.4 L772.44 1094.55 L773.36 1093.66 L774.24 1092.74 L775.08 1091.81 L775.88 1090.88 L776.65 1089.93 L777.39 1088.97 L778.1 1088.01 L778.78 1087.03 L779.45 1086.05 L780.1 1085.06 L780.73 1084.06 L781.35 1083.06 L781.97 1082.04 L782.59 1081.03 L783.2 1080.01 L783.81 1078.98 L784.43 1077.95 L785.04 1076.92 L785.66 1075.89 L786.28 1074.86 L786.9 1073.82 L787.53 1072.79 L788.16 1071.77 L788.8 1070.74 L789.44 1069.72 L790.1 1068.71 L790.76 1067.7 L791.43 1066.7 L792.12 1065.71 L792.81 1064.73 L793.52 1063.76 L794.24 1062.8 L794.98 1061.85 L795.73 1060.92 L796.5 1060" fill="none" stroke="#ff00ff" stroke-width="10.1" stroke-linejoin="round" stroke-linecap="round"/>
<path d="M215.5 1020.5 L216.46 1021.24 L217.38 1022.04 L218.26 1022.88 L219.1 1023.78 L219.89 1024.72 L220.66 1025.7 L221.39 1026.73 L222.09 1027.79 L222.76 1028.89 L223.4 1030.02 L224.02 1031.18 L224.62 1032.36 L225.21 1033.57 L225.77 1034.81 L226.32 1036.06 L226.86 1037.32 L227.39 1038.6 L227.91 1039.9 L228.43 1041.2 L228.95 1042.5 L229.46 1043.81 L229.98 1045.12 L230.5 1046.42 L231.04 1047.72 L231.57 1049.01 L232.13 1050.29 L232.69 1051.56 L233.27 1052.81 L233.88 1054.04 L234.5 1055.24 L235.15 1056.43 L235.82 1057.59 L236.52 1058.71 L237.25 1059.81 L238.02 1060.87 L238.82 1061.89 L239.65 1062.87 L240.53 1063.8 L241.45 1064.7 L242.42 1065.54 L243.43 1066.33 L244.49 1067.07 L245.6 1067.76 L246.75 1068.4 L247.93 1069 L249.16 1069.57 L250.41 1070.08 L251.68 1070.48 L252.96 1070.69 L254.23 1070.64 L255.48 1070.34 L256.71 1069.84 L257.91 1069.19 L259.07 1068.46 L260.18 1067.68 L261.26 1066.88 L262.3 1066.04 L263.3 1065.18 L264.28 1064.3 L265.23 1063.39 L266.15 1062.47 L267.06 1061.53 L267.95 1060.57 L268.82 1059.61 L269.69 1058.64 L270.55 1057.66 L271.41 1056.68 L272.26 1055.7 L273.12 1054.72 L273.99 1053.74 L274.85 1052.76 L275.72 1051.79 L276.6 1050.81 L277.47 1049.84 L278.35 1048.87 L279.24 1047.9 L280.13 1046.94 L281.02 1045.98 L281.91 1045.02 L282.81 1044.06 L283.72 1043.11 L284.62 1042.16 L285.53 1041.21 L286.45 1040.27 L287.37 1039.33 L288.29 1038.39 L289.22 1037.46 L290.16 1036.53 L291.09 1035.61 L292.04 1034.69 L292.98 1033.78 L293.94 1032.87 L294.89 1031.97 L295.86 1031.07 L296.82 1030.17 L297.8 1029.28 L298.77 1028.4 L299.76 1027.52 L300.74 1026.65 L301.73 1025.78 L302.73 1024.92 L303.73 1024.06 L304.74 1023.21 L305.75 1022.37 L306.76 1021.53 L307.78 1020.7 L308.81 1019.87 L309.84 1019.05 L310.87 1018.24 L311.91 1017.43 L312.96 1016.63 L314.01 1015.84 L315.06 1015.05 L316.12 1014.27 L317.18 1013.49 L318.25 1012.73 L319.32 1011.97 L320.4 1011.21 L321.48 1010.47 L322.57 1009.73 L323.66 1009 L324.76 1008.27 L325.86 1007.56 L326.96 1006.85 L328.07 1006.15 L329.19 1005.45 L330.31 1004.77 L331.43 1004.09 L332.56 1003.42 L333.69 1002.76 L334.83 1002.11 L335.97 1001.46 L337.11 1000.83 L338.27 1000.2 L339.42 999.58 L340.58 998.97 L341.74 998.36 L342.91 997.77 L344.08 997.18 L345.26 996.6 L346.44 996.03 L347.62 995.46 L348.81 994.9 L350 994.35 L351.19 993.8 L352.39 993.26 L353.59 992.73 L354.79 992.21 L355.99 991.69 L357.2 991.17 L358.41 990.67 L359.63 990.17 L360.85 989.67 L362.06 989.18 L363.29 988.69 L364.51 988.21 L365.74 987.74 L366.96 987.27 L368.19 986.8 L369.43 986.34 L370.66 985.89 L371.89 985.43 L373.13 984.99 L374.37 984.54 L375.61 984.1 L376.85 983.67 L378.09 983.23 L379.33 982.81 L380.58 982.38 L381.83 981.96 L383.07 981.55 L384.32 981.13 L385.57 980.73 L386.82 980.32 L388.07 979.93 L389.33 979.53 L390.58 979.14 L391.84 978.76 L393.1 978.38 L394.36 978.01 L395.62 977.64 L396.88 977.28 L398.14 976.92 L399.41 976.57 L400.67 976.23 L401.94 975.89 L403.21 975.55 L404.48 975.23 L405.75 974.91 L407.02 974.59 L408.3 974.28 L409.57 973.98 L410.85 973.69 L412.13 973.4 L413.41 973.12 L414.69 972.85 L415.98 972.58 L417.26 972.32 L418.55 972.07 L419.83 971.82 L421.12 971.59 L422.41 971.36 L423.71 971.13 L425 970.92 L426.3 970.71 L427.59 970.51 L428.89 970.32 L430.19 970.14 L431.49 969.96 L432.79 969.79 L434.09 969.63 L435.4 969.47 L436.7 969.33 L438 969.19 L439.31 969.06 L440.62 968.93 L441.93 968.82 L443.24 968.71 L444.55 968.6 L445.86 968.51 L447.17 968.42 L448.48 968.35 L449.79 968.27 L451.11 968.21 L452.42 968.15 L453.73 968.11 L455.05 968.06 L456.36 968.03 L457.68 968.01 L459 967.99 L460.31 967.98 L461.63 967.97 L462.95 967.98 L464.26 967.99 L465.58 968.01 L466.9 968.04 L468.21 968.08 L469.53 968.12 L470.84 968.18 L472.16 968.24 L473.47 968.31 L474.79 968.39 L476.1 968.48 L477.41 968.58 L478.72 968.68 L480.03 968.8 L481.34 968.92 L482.65 969.06 L483.96 969.2 L485.26 969.35 L486.57 969.51 L487.87 969.69 L489.17 969.87 L490.47 970.06 L491.76 970.26 L493.06 970.47 L494.35 970.69 L495.64 970.92 L496.93 971.16 L498.21 971.42 L499.5 971.68 L500.78 971.95 L502.06 972.24 L503.33 972.53 L504.61 972.83 L505.88 973.15 L507.15 973.47 L508.42 973.8 L509.68 974.14 L510.94 974.49 L512.2 974.85 L513.46 975.21 L514.72 975.58 L515.98 975.96 L517.23 976.34 L518.48 976.73 L519.74 977.12 L520.99 977.52 L522.23 977.93 L523.48 978.34 L524.73 978.75 L525.98 979.16 L527.22 979.58 L528.46 980.01 L529.71 980.43 L530.95 980.86 L532.19 981.29 L533.44 981.72 L534.68 982.15 L535.92 982.58 L537.16 983.01 L538.4 983.45 L539.65 983.88 L540.89 984.31 L542.13 984.74 L543.37 985.17 L544.61 985.6 L545.86 986.02 L547.1 986.45 L548.34 986.88 L549.58 987.31 L550.82 987.74 L552.06 988.17 L553.3 988.6 L554.54 989.03 L555.78 989.47 L557.02 989.9 L558.26 990.34 L559.49 990.78 L560.73 991.22 L561.96 991.66 L563.2 992.11 L564.43 992.55 L565.66 993.01 L566.89 993.46 L568.12 993.92 L569.34 994.38 L570.57 994.84 L571.79 995.31 L573.02 995.78 L574.24 996.26 L575.46 996.74 L576.67 997.22 L577.89 997.71 L579.1 998.21 L580.31 998.71 L581.52 999.21 L582.73 999.73 L583.93 1000.24 L585.13 1000.77 L586.33 1001.29 L587.53 1001.83 L588.73 1002.37 L589.92 1002.91 L591.11 1003.47 L592.3 1004.02 L593.48 1004.58 L594.66 1005.15 L595.84 1005.73 L597.02 1006.31 L598.2 1006.89 L599.37 1007.48 L600.54 1008.08 L601.71 1008.68 L602.87 1009.28 L604.03 1009.9 L605.19 1010.51 L606.35 1011.14 L607.5 1011.76 L608.65 1012.4 L609.8 1013.04 L610.94 1013.68 L612.09 1014.33 L613.23 1014.99 L614.36 1015.64 L615.5 1016.31 L616.63 1016.98 L617.75 1017.66 L618.88 1018.34 L620 1019.02 L621.12 1019.71 L622.23 1020.41 L623.34 1021.11 L624.45 1021.81 L625.56 1022.52 L626.66 1023.24 L627.76 1023.96 L628.85 1024.68 L629.95 1025.41 L631.04 1026.15 L632.12 1026.89 L633.21 1027.63 L634.29 1028.38 L635.36 1029.13 L636.44 1029.89 L637.51 1030.65 L638.58 1031.42 L639.64 1032.19 L640.7 1032.96 L641.76 1033.74 L642.81 1034.52 L643.87 1035.31 L644.91 1036.1 L645.96 1036.9 L647 1037.7 L648.04 1038.5 L649.08 1039.31 L650.11 1040.12 L651.14 1040.93 L652.17 1041.75 L653.19 1042.57 L654.21 1043.4 L655.23 1044.23 L656.24 1045.06 L657.25 1045.9 L658.26 1046.73 L659.26 1047.58 L660.26 1048.42 L661.26 1049.27 L662.26 1050.13 L663.25 1050.98 L664.24 1051.84 L665.22 1052.71 L666.2 1053.57 L667.18 1054.44 L668.16 1055.31 L669.13 1056.19 L670.1 1057.06 L671.07 1057.95 L672.03 1058.83 L672.99 1059.72 L673.95 1060.61 L674.9 1061.5 L675.85 1062.4 L676.8 1063.29 L677.75 1064.2 L678.7 1065.1 L679.64 1066.01 L680.58 1066.92 L681.51 1067.83 L682.45 1068.75 L683.38 1069.67 L684.31 1070.59 L685.24 1071.52 L686.16 1072.44 L687.08 1073.37 L688 1074.31 L688.92 1075.24 L689.84 1076.18 L690.75 1077.13 L691.66 1078.07 L692.57 1079.02 L693.48 1079.97 L694.39 1080.92 L695.29 1081.88 L696.19 1082.84 L697.09 1083.8 L697.99 1084.76 L698.89 1085.73 L699.78 1086.7 L700.68 1087.67 L701.57 1088.64 L702.46 1089.62 L703.35 1090.6 L704.23 1091.58 L705.12 1092.57 L706.01 1093.56 L706.89 1094.55 L707.77 1095.54 L708.65 1096.53 L709.53 1097.53 L710.41 1098.53 L711.28 1099.53 L712.15 1100.54 L713.02 1101.54 L713.89 1102.55 L714.76 1103.56 L715.63 1104.57 L716.49 1105.58 L717.35 1106.6 L718.21 1107.61 L719.07 1108.63 L719.92 1109.65 L720.77 1110.67 L721.62 1111.69 L722.47 1112.71 L723.32 1113.74 L724.16 1114.76 L725 1115.79 L725.84 1116.81 L726.67 1117.84 L727.5 1118.87 L728.33 1119.89 L729.16 1120.92 L729.98 1121.95 L730.8 1122.98 L731.62 1124.01 L732.43 1125.04 L733.24 1126.07 L734.05 1127.1 L734.85 1128.13 L735.66 1129.16 L736.45 1130.19 L737.25 1131.22 L738.04 1132.25 L738.83 1133.28 L739.61 1134.3 L740.39 1135.33 L741.17 1136.36 L741.94 1137.39 L742.71 1138.41 L743.47 1139.44 L744.23 1140.46 L744.99 1141.48 L745.75 1142.5 L746.49 1143.52 L747.24 1144.54 L747.98 1145.56 L748.72 1146.58 L749.45 1147.59 L750.18 1148.61 L750.91 1149.62 L751.64 1150.63 L752.37 1151.64 L753.09 1152.65 L753.82 1153.66 L754.54 1154.66 L755.27 1155.67 L756 1156.67 L756.73 1157.68 L757.46 1158.68 L758.2 1159.68 L758.94 1160.68 L759.68 1161.68 L760.43 1162.68 L761.18 1163.67 L761.94 1164.67 L762.71 1165.66 L763.48 1166.66 L764.26 1167.65 L765.05 1168.64 L765.85 1169.63 L766.65 1170.62 L767.47 1171.61 L768.29 1172.6 L769.13 1173.59 L769.97 1174.58 L770.83 1175.56 L771.7 1176.55 L772.59 1177.53 L773.48 1178.51 L774.39 1179.5 L775.32 1180.48 L776.26 1181.46 L777.21 1182.44 L778.18 1183.42 L779.17 1184.4 L780.17 1185.38 L781.2 1186.36 L782.24 1187.34 L783.29 1188.32 L784.37 1189.29 L785.47 1190.27 L786.59 1191.25 L787.72 1192.22 L788.88 1193.2 L790.06 1194.17 L791.27 1195.14 L792.48 1196.08 L793.7 1196.97 L794.93 1197.77 L796.14 1198.46 L797.33 1199.02 L798.49 1199.4 L799.62 1199.59 L800.71 1199.55 L801.75 1199.27 L802.74 1198.75 L803.68 1198.02 L804.57 1197.11 L805.42 1196.06 L806.24 1194.89 L807.02 1193.64 L807.76 1192.33 L808.48 1190.99 L809.18 1189.66 L809.85 1188.35 L810.5 1187.06 L811.13 1185.8 L811.74 1184.56 L812.33 1183.34 L812.91 1182.14 L813.47 1180.95 L814.02 1179.78 L814.56 1178.62 L815.09 1177.48 L815.61 1176.34 L816.12 1175.21 L816.62 1174.09 L817.12 1172.97 L817.62 1171.86 L818.11 1170.75 L818.61 1169.63 L819.1 1168.52 L819.6 1167.4 L820.09 1166.28 L820.6 1165.15 L821.11 1164.02 L821.62 1162.87 L822.15 1161.71 L822.69 1160.54 L823.23 1159.35 L823.79 1158.15 L824.37 1156.93 L824.96 1155.69 L825.56 1154.43 L826.19 1153.14 L826.83 1151.84 L827.5 1150.5" fill="none" stroke="#0000ff" stroke-width="10.1" stroke-linejoin="round" stroke-linecap="round"/>
<path d="M215.5 1020.5 L216.56 1022.08 L217.58 1023.67 L218.57 1025.27 L219.53 1026.89 L220.47 1028.52 L221.38 1030.16 L222.27 1031.8 L223.13 1033.46 L223.98 1035.12 L224.81 1036.8 L225.63 1038.47 L226.44 1040.15 L227.24 1041.84 L228.03 1043.52 L228.82 1045.21 L229.61 1046.9 L230.4 1048.59 L231.19 1050.28 L231.98 1051.96 L232.79 1053.65 L233.6 1055.32 L234.42 1056.99 L235.26 1058.66 L236.11 1060.32 L236.99 1061.97 L237.88 1063.61 L238.8 1065.24 L239.75 1066.86 L240.72 1068.47 L241.72 1070.06 L242.76 1071.64 L243.83 1073.2 L244.96 1074.71 L246.19 1076.13 L247.55 1077.42 L249.06 1078.54 L250.75 1079.42 L252.55 1079.94 L254.38 1079.99 L256.22 1079.61 L258.02 1078.95 L259.77 1078.12 L261.45 1077.23 L263.08 1076.27 L264.65 1075.26 L266.2 1074.22 L267.71 1073.14 L269.21 1072.05 L270.71 1070.95 L272.2 1069.85 L273.71 1068.77 L275.23 1067.69 L276.76 1066.63 L278.29 1065.58 L279.84 1064.53 L281.39 1063.49 L282.95 1062.46 L284.51 1061.43 L286.07 1060.4 L287.64 1059.37 L289.21 1058.35 L290.78 1057.32 L292.35 1056.29 L293.91 1055.26 L295.48 1054.22 L297.04 1053.18 L298.59 1052.13 L300.14 1051.07 L301.69 1050.01 L303.23 1048.94 L304.77 1047.87 L306.31 1046.79 L307.85 1045.72 L309.39 1044.65 L310.93 1043.58 L312.47 1042.51 L314.01 1041.45 L315.56 1040.39 L317.11 1039.34 L318.66 1038.29 L320.22 1037.26 L321.78 1036.23 L323.35 1035.22 L324.92 1034.22 L326.5 1033.23 L328.09 1032.26 L329.69 1031.3 L331.3 1030.36 L332.92 1029.44 L334.55 1028.54 L336.2 1027.66 L337.85 1026.8 L339.52 1025.97 L341.2 1025.15 L342.89 1024.36 L344.59 1023.59 L346.3 1022.84 L348.03 1022.11 L349.76 1021.4 L351.5 1020.72 L353.25 1020.05 L355.01 1019.4 L356.78 1018.77 L358.56 1018.17 L360.34 1017.58 L362.13 1017.01 L363.93 1016.46 L365.73 1015.93 L367.54 1015.42 L369.36 1014.92 L371.18 1014.45 L373 1013.99 L374.83 1013.55 L376.66 1013.12 L378.5 1012.71 L380.34 1012.32 L382.18 1011.95 L384.03 1011.59 L385.87 1011.26 L387.72 1010.93 L389.57 1010.63 L391.43 1010.34 L393.28 1010.08 L395.14 1009.82 L397 1009.59 L398.86 1009.38 L400.72 1009.18 L402.59 1009.01 L404.45 1008.85 L406.32 1008.71 L408.18 1008.6 L410.05 1008.5 L411.92 1008.42 L413.78 1008.36 L415.65 1008.32 L417.52 1008.3 L419.39 1008.3 L421.25 1008.33 L423.12 1008.37 L424.99 1008.43 L426.85 1008.51 L428.72 1008.61 L430.58 1008.72 L432.45 1008.85 L434.31 1009 L436.18 1009.16 L438.04 1009.33 L439.9 1009.52 L441.76 1009.72 L443.62 1009.94 L445.48 1010.16 L447.34 1010.4 L449.2 1010.64 L451.06 1010.9 L452.91 1011.16 L454.77 1011.44 L456.62 1011.72 L458.47 1012 L460.32 1012.29 L462.17 1012.59 L464.02 1012.9 L465.87 1013.2 L467.71 1013.52 L469.55 1013.83 L471.4 1014.16 L473.24 1014.49 L475.08 1014.82 L476.92 1015.16 L478.75 1015.51 L480.59 1015.86 L482.42 1016.22 L484.25 1016.59 L486.09 1016.96 L487.92 1017.34 L489.74 1017.72 L491.57 1018.12 L493.4 1018.52 L495.22 1018.92 L497.05 1019.34 L498.87 1019.76 L500.69 1020.19 L502.51 1020.62 L504.33 1021.07 L506.14 1021.52 L507.96 1021.98 L509.77 1022.45 L511.58 1022.93 L513.39 1023.42 L515.2 1023.91 L517 1024.42 L518.8 1024.94 L520.59 1025.47 L522.39 1026.01 L524.17 1026.56 L525.96 1027.12 L527.74 1027.7 L529.52 1028.28 L531.29 1028.88 L533.06 1029.49 L534.82 1030.12 L536.58 1030.75 L538.33 1031.41 L540.08 1032.07 L541.82 1032.75 L543.55 1033.44 L545.28 1034.15 L547.01 1034.87 L548.73 1035.6 L550.44 1036.35 L552.15 1037.11 L553.85 1037.88 L555.55 1038.66 L557.24 1039.45 L558.94 1040.24 L560.62 1041.05 L562.31 1041.86 L563.99 1042.67 L565.67 1043.5 L567.35 1044.32 L569.03 1045.15 L570.71 1045.98 L572.38 1046.82 L574.05 1047.65 L575.73 1048.49 L577.4 1049.33 L579.08 1050.16 L580.75 1050.99 L582.43 1051.82 L584.1 1052.65 L585.78 1053.47 L587.46 1054.29 L589.14 1055.1 L590.82 1055.91 L592.51 1056.71 L594.19 1057.52 L595.88 1058.32 L597.57 1059.11 L599.26 1059.91 L600.95 1060.7 L602.64 1061.48 L604.34 1062.27 L606.03 1063.05 L607.73 1063.83 L609.43 1064.61 L611.13 1065.39 L612.83 1066.16 L614.53 1066.93 L616.24 1067.71 L617.94 1068.48 L619.65 1069.24 L621.36 1070.01 L623.07 1070.78 L624.79 1071.55 L626.5 1072.31 L628.22 1073.08 L629.93 1073.84 L631.65 1074.61 L633.36 1075.38 L635.08 1076.15 L636.79 1076.93 L638.5 1077.71 L640.21 1078.5 L641.91 1079.3 L643.6 1080.1 L645.29 1080.92 L646.98 1081.75 L648.65 1082.58 L650.32 1083.43 L651.98 1084.3 L653.63 1085.18 L655.27 1086.07 L656.9 1086.98 L658.51 1087.91 L660.11 1088.86 L661.7 1089.83 L663.28 1090.81 L664.84 1091.82 L666.38 1092.86 L667.91 1093.91 L669.42 1094.99 L670.92 1096.09 L672.4 1097.21 L673.87 1098.35 L675.33 1099.5 L676.78 1100.68 L678.21 1101.86 L679.64 1103.06 L681.06 1104.28 L682.47 1105.51 L683.87 1106.74 L685.27 1107.99 L686.66 1109.24 L688.05 1110.5 L689.43 1111.77 L690.81 1113.05 L692.19 1114.32 L693.56 1115.6 L694.94 1116.88 L696.31 1118.16 L697.69 1119.44 L699.07 1120.72 L700.45 1122 L701.83 1123.27 L703.22 1124.53 L704.61 1125.79 L706.01 1127.04 L707.42 1128.28 L708.83 1129.52 L710.26 1130.74 L711.68 1131.95 L713.12 1133.15 L714.56 1134.34 L716.01 1135.52 L717.47 1136.7 L718.93 1137.87 L720.39 1139.03 L721.86 1140.19 L723.33 1141.34 L724.81 1142.49 L726.29 1143.64 L727.77 1144.78 L729.25 1145.92 L730.73 1147.06 L732.21 1148.2 L733.69 1149.34 L735.17 1150.48 L736.65 1151.62 L738.13 1152.76 L739.61 1153.91 L741.08 1155.05 L742.55 1156.21 L744.02 1157.37 L745.48 1158.53 L746.93 1159.7 L748.38 1160.88 L749.83 1162.06 L751.27 1163.25 L752.7 1164.45 L754.13 1165.65 L755.56 1166.87 L756.97 1168.08 L758.38 1169.31 L759.79 1170.54 L761.19 1171.78 L762.59 1173.02 L763.98 1174.28 L765.36 1175.53 L766.74 1176.8 L768.12 1178.06 L769.49 1179.34 L770.85 1180.62 L772.21 1181.9 L773.57 1183.2 L774.92 1184.49 L776.26 1185.79 L777.6 1187.1 L778.94 1188.41 L780.27 1189.73 L781.6 1191.05 L782.92 1192.38 L784.23 1193.71 L785.55 1195.04 L786.85 1196.38 L788.16 1197.73 L789.45 1199.07 L790.75 1200.43 L792.04 1201.78 L793.32 1203.14 L794.6 1204.5 L795.88 1205.87 L797.15 1207.24 L798.42 1208.62 L799.69 1209.99 L800.95 1211.37 L802.21 1212.76 L803.46 1214.15 L804.71 1215.54 L805.96 1216.93 L807.21 1218.32 L808.45 1219.72 L809.69 1221.12 L810.92 1222.53 L812.15 1223.93 L813.38 1225.34 L814.61 1226.75 L815.83 1228.17 L817.06 1229.58 L818.27 1231 L819.49 1232.42 L820.71 1233.84 L821.92 1235.26 L823.13 1236.69 L824.34 1238.11 L825.54 1239.54 L826.75 1240.97 L827.95 1242.4 L829.15 1243.83 L830.35 1245.26 L831.55 1246.7 L832.75 1248.13 L833.94 1249.57 L835.14 1251 L836.33 1252.44 L837.52 1253.88 L838.71 1255.32 L839.9 1256.76 L841.09 1258.2 L842.27 1259.65 L843.46 1261.09 L844.64 1262.54 L845.83 1263.98 L847.01 1265.43 L848.19 1266.88 L849.37 1268.33 L850.54 1269.78 L851.72 1271.23 L852.9 1272.68 L854.07 1274.14 L855.24 1275.59 L856.42 1277.05 L857.59 1278.5 L858.76 1279.96 L859.93 1281.42 L861.09 1282.88 L862.26 1284.34 L863.43 1285.81 L864.59 1287.27 L865.76 1288.74 L866.92 1290.2 L868.08 1291.67 L869.24 1293.14 L870.41 1294.61 L871.57 1296.08 L872.72 1297.55 L873.88 1299.02 L875.04 1300.5 L876.2 1301.97 L877.35 1303.45 L878.5 1304.93 L879.65 1306.41 L880.8 1307.89 L881.95 1309.37 L883.09 1310.86 L884.24 1312.34 L885.38 1313.83 L886.51 1315.32 L887.64 1316.82 L888.77 1318.31 L889.9 1319.81 L891.02 1321.31 L892.14 1322.82 L893.25 1324.32 L894.36 1325.83 L895.46 1327.35 L896.56 1328.86 L897.66 1330.38 L898.74 1331.9 L899.83 1333.43 L900.9 1334.96 L901.97 1336.49 L903.04 1338.02 L904.1 1339.56 L905.15 1341.11 L906.19 1342.66 L907.23 1344.21 L908.26 1345.76 L909.29 1347.32 L910.3 1348.89 L911.31 1350.46 L912.31 1352.03 L913.3 1353.61 L914.28 1355.19 L915.26 1356.78 L916.22 1358.37 L917.18 1359.97 L918.13 1361.57 L919.07 1363.18 L920 1364.79 L920.92 1366.4 L921.84 1368.02 L922.75 1369.65 L923.66 1371.27 L924.56 1372.9 L925.45 1374.54 L926.34 1376.17 L927.22 1377.81 L928.1 1379.46 L928.98 1381.1 L929.85 1382.75 L930.72 1384.4 L931.59 1386.05 L932.45 1387.7 L933.31 1389.35 L934.18 1391.01 L935.04 1392.67 L935.9 1394.32 L936.76 1395.98 L937.62 1397.64 L938.48 1399.3 L939.34 1400.96 L940.2 1402.62 L941.07 1404.28 L941.93 1405.94 L942.8 1407.6 L943.68 1409.26 L944.55 1410.91 L945.43 1412.57 L946.32 1414.23 L947.2 1415.88 L948.1 1417.53 L949 1419.18 L949.9 1420.83 L950.81 1422.47 L951.73 1424.12 L952.66 1425.76 L953.59 1427.39 L954.53 1429.03 L955.48 1430.66 L956.43 1432.29 L957.4 1433.91 L958.37 1435.53 L959.35 1437.15 L960.33 1438.77 L961.32 1440.38 L962.31 1441.99 L963.3 1443.6 L964.3 1445.21 L965.3 1446.81 L966.3 1448.42 L967.3 1450.02 L968.29 1451.62 L969.29 1453.22 L970.29 1454.82 L971.28 1456.41 L972.26 1458.01 L973.24 1459.61 L974.22 1461.2 L975.19 1462.8 L976.15 1464.4 L977.11 1465.99 L978.05 1467.59 L978.99 1469.18 L979.91 1470.78 L980.83 1472.38 L981.73 1473.98 L982.62 1475.58 L983.5 1477.18 L984.36 1478.79 L985.2 1480.39 L986.04 1482 L986.87 1483.6 L987.72 1485.2 L988.6 1486.79 L989.51 1488.37 L990.47 1489.93 L991.49 1491.48 L992.6 1493 L993.79 1494.5 L995.08 1495.97 L996.49 1497.42 L998.03 1498.82 L999.69 1500.18 L1001.43 1501.38 L1003.18 1502.33 L1004.88 1502.92 L1006.47 1503.03 L1007.9 1502.58 L1009.16 1501.62 L1010.28 1500.24 L1011.28 1498.54 L1012.2 1496.61 L1013.04 1494.54 L1013.83 1492.44 L1014.61 1490.39 L1015.37 1488.42 L1016.11 1486.51 L1016.84 1484.67 L1017.56 1482.89 L1018.27 1481.15 L1018.97 1479.46 L1019.66 1477.81 L1020.34 1476.18 L1021.02 1474.59 L1021.7 1473.01 L1022.38 1471.45 L1023.05 1469.89 L1023.72 1468.33 L1024.4 1466.77 L1025.08 1465.19 L1025.76 1463.6 L1026.44 1461.98 L1027.14 1460.33 L1027.84 1458.64 L1028.55 1456.91 L1029.28 1455.13 L1030.01 1453.3 L1030.76 1451.4 L1031.52 1449.44 L1032.3 1447.4" fill="none" stroke="#ff0000" stroke-width="10.1" stroke-linejoin="round" stroke-linecap="round"/>
<path d="M215.5 1020.3 L216.19 1021.93 L216.89 1023.55 L217.59 1025.17 L218.31 1026.78 L219.03 1028.39 L219.77 1029.99 L220.51 1031.59 L221.26 1033.19 L222.01 1034.79 L222.77 1036.38 L223.54 1037.96 L224.31 1039.55 L225.08 1041.13 L225.86 1042.71 L226.64 1044.29 L227.43 1045.87 L228.21 1047.45 L229 1049.03 L229.79 1050.6 L230.58 1052.18 L231.37 1053.75 L232.16 1055.33 L232.95 1056.9 L233.74 1058.48 L234.53 1060.06 L235.31 1061.63 L236.09 1063.21 L236.87 1064.8 L237.64 1066.38 L238.41 1067.97 L239.18 1069.56 L239.94 1071.15 L240.69 1072.74 L241.43 1074.34 L242.17 1075.94 L242.9 1077.55 L243.63 1079.16 L244.34 1080.77 L245.06 1082.38 L245.82 1083.97 L246.64 1085.53 L247.56 1087.03 L248.61 1088.47 L249.82 1089.82 L251.21 1091.06 L252.74 1092.07 L254.36 1092.69 L256.02 1092.8 L257.67 1092.41 L259.32 1091.66 L260.94 1090.69 L262.53 1089.65 L264.07 1088.62 L265.57 1087.6 L267.04 1086.59 L268.48 1085.6 L269.91 1084.6 L271.32 1083.61 L272.72 1082.62 L274.12 1081.63 L275.52 1080.63 L276.93 1079.62 L278.35 1078.61 L279.78 1077.59 L281.22 1076.58 L282.67 1075.57 L284.13 1074.57 L285.6 1073.57 L287.09 1072.6 L288.58 1071.63 L290.08 1070.69 L291.6 1069.77 L293.13 1068.88 L294.67 1068.02 L296.23 1067.18 L297.79 1066.37 L299.37 1065.6 L300.96 1064.84 L302.56 1064.11 L304.17 1063.41 L305.79 1062.73 L307.42 1062.06 L309.05 1061.42 L310.7 1060.8 L312.35 1060.19 L314.01 1059.6 L315.68 1059.03 L317.35 1058.46 L319.03 1057.92 L320.72 1057.38 L322.41 1056.85 L324.1 1056.33 L325.8 1055.82 L327.51 1055.31 L329.21 1054.81 L330.92 1054.32 L332.63 1053.83 L334.34 1053.33 L336.06 1052.84 L337.77 1052.35 L339.49 1051.86 L341.2 1051.36 L342.92 1050.87 L344.63 1050.39 L346.35 1049.91 L348.07 1049.44 L349.79 1048.98 L351.51 1048.53 L353.23 1048.09 L354.95 1047.67 L356.68 1047.27 L358.4 1046.88 L360.13 1046.51 L361.86 1046.17 L363.58 1045.85 L365.31 1045.55 L367.05 1045.28 L368.78 1045.04 L370.51 1044.83 L372.25 1044.65 L373.99 1044.51 L375.73 1044.4 L377.47 1044.33 L379.21 1044.29 L380.96 1044.29 L382.7 1044.31 L384.45 1044.37 L386.2 1044.45 L387.95 1044.56 L389.7 1044.69 L391.45 1044.85 L393.21 1045.02 L394.96 1045.21 L396.72 1045.41 L398.48 1045.63 L400.24 1045.85 L401.99 1046.09 L403.75 1046.33 L405.52 1046.58 L407.28 1046.83 L409.04 1047.08 L410.8 1047.32 L412.56 1047.57 L414.33 1047.81 L416.09 1048.04 L417.86 1048.26 L419.62 1048.47 L421.38 1048.67 L423.15 1048.86 L424.91 1049.03 L426.68 1049.2 L428.44 1049.37 L430.2 1049.53 L431.96 1049.68 L433.72 1049.84 L435.48 1049.99 L437.24 1050.15 L439 1050.3 L440.75 1050.47 L442.5 1050.64 L444.25 1050.81 L446 1051 L447.75 1051.2 L449.49 1051.41 L451.23 1051.63 L452.97 1051.87 L454.71 1052.13 L456.44 1052.4 L458.17 1052.7 L459.89 1053.02 L461.62 1053.35 L463.33 1053.71 L465.05 1054.08 L466.76 1054.47 L468.48 1054.88 L470.18 1055.3 L471.89 1055.73 L473.59 1056.18 L475.3 1056.64 L477 1057.11 L478.69 1057.59 L480.39 1058.08 L482.09 1058.58 L483.78 1059.09 L485.48 1059.6 L487.17 1060.11 L488.86 1060.63 L490.55 1061.16 L492.24 1061.68 L493.93 1062.21 L495.62 1062.74 L497.31 1063.26 L499 1063.79 L500.69 1064.31 L502.39 1064.82 L504.08 1065.34 L505.77 1065.85 L507.46 1066.36 L509.15 1066.86 L510.84 1067.37 L512.54 1067.87 L514.23 1068.38 L515.92 1068.88 L517.6 1069.39 L519.29 1069.9 L520.98 1070.41 L522.66 1070.93 L524.35 1071.45 L526.03 1071.98 L527.71 1072.51 L529.39 1073.04 L531.06 1073.58 L532.73 1074.13 L534.4 1074.69 L536.07 1075.26 L537.73 1075.83 L539.4 1076.42 L541.05 1077.02 L542.71 1077.62 L544.36 1078.24 L546.01 1078.86 L547.66 1079.49 L549.3 1080.12 L550.95 1080.76 L552.59 1081.4 L554.23 1082.05 L555.87 1082.7 L557.51 1083.35 L559.16 1083.99 L560.8 1084.64 L562.44 1085.28 L564.09 1085.92 L565.73 1086.56 L567.38 1087.19 L569.03 1087.81 L570.68 1088.43 L572.34 1089.03 L574 1089.63 L575.66 1090.22 L577.32 1090.79 L578.99 1091.35 L580.67 1091.9 L582.35 1092.43 L584.03 1092.95 L585.73 1093.45 L587.42 1093.93 L589.12 1094.41 L590.82 1094.87 L592.53 1095.32 L594.23 1095.77 L595.94 1096.21 L597.66 1096.64 L599.37 1097.07 L601.08 1097.49 L602.8 1097.92 L604.51 1098.34 L606.23 1098.77 L607.94 1099.2 L609.65 1099.63 L611.36 1100.07 L613.06 1100.52 L614.77 1100.98 L616.47 1101.44 L618.16 1101.92 L619.85 1102.41 L621.54 1102.91 L623.22 1103.43 L624.89 1103.97 L626.56 1104.52 L628.22 1105.1 L629.88 1105.69 L631.53 1106.3 L633.18 1106.92 L634.82 1107.56 L636.45 1108.21 L638.09 1108.87 L639.72 1109.54 L641.34 1110.21 L642.97 1110.9 L644.59 1111.59 L646.21 1112.29 L647.83 1112.99 L649.45 1113.69 L651.07 1114.39 L652.69 1115.1 L654.31 1115.8 L655.94 1116.5 L657.56 1117.19 L659.19 1117.88 L660.82 1118.56 L662.45 1119.23 L664.09 1119.9 L665.73 1120.55 L667.37 1121.19 L669.02 1121.82 L670.68 1122.45 L672.33 1123.06 L673.99 1123.67 L675.65 1124.27 L677.31 1124.87 L678.97 1125.47 L680.63 1126.06 L682.3 1126.66 L683.96 1127.25 L685.62 1127.85 L687.28 1128.44 L688.94 1129.04 L690.6 1129.65 L692.25 1130.26 L693.9 1130.88 L695.55 1131.51 L697.19 1132.14 L698.83 1132.79 L700.46 1133.45 L702.09 1134.12 L703.71 1134.8 L705.32 1135.5 L706.93 1136.21 L708.53 1136.95 L710.13 1137.7 L711.71 1138.46 L713.29 1139.24 L714.87 1140.03 L716.44 1140.84 L718 1141.65 L719.56 1142.47 L721.12 1143.3 L722.68 1144.14 L724.23 1144.97 L725.79 1145.81 L727.34 1146.66 L728.89 1147.5 L730.45 1148.33 L732.01 1149.17 L733.56 1150 L735.13 1150.82 L736.69 1151.63 L738.26 1152.43 L739.83 1153.23 L741.41 1154.01 L743 1154.77 L744.59 1155.52 L746.19 1156.25 L747.8 1156.96 L749.42 1157.66 L751.04 1158.33 L752.67 1158.99 L754.31 1159.63 L755.96 1160.26 L757.61 1160.87 L759.26 1161.48 L760.92 1162.07 L762.59 1162.65 L764.25 1163.22 L765.92 1163.79 L767.6 1164.35 L769.27 1164.91 L770.95 1165.47 L772.63 1166.02 L774.31 1166.57 L775.98 1167.12 L777.66 1167.68 L779.34 1168.23 L781.01 1168.8 L782.68 1169.36 L784.35 1169.94 L786.02 1170.52 L787.68 1171.11 L789.34 1171.72 L790.99 1172.33 L792.64 1172.96 L794.28 1173.6 L795.92 1174.25 L797.55 1174.91 L799.18 1175.58 L800.81 1176.26 L802.43 1176.95 L804.05 1177.65 L805.66 1178.36 L807.28 1179.08 L808.88 1179.8 L810.49 1180.53 L812.09 1181.26 L813.7 1182 L815.29 1182.75 L816.89 1183.5 L818.49 1184.25 L820.08 1185.01 L821.67 1185.77 L823.26 1186.54 L824.85 1187.3 L826.44 1188.07 L828.03 1188.84 L829.62 1189.61 L831.21 1190.38 L832.8 1191.14 L834.39 1191.91 L835.97 1192.68 L837.56 1193.45 L839.15 1194.21 L840.74 1194.98 L842.33 1195.74 L843.93 1196.5 L845.52 1197.26 L847.11 1198.01 L848.71 1198.76 L850.3 1199.51 L851.9 1200.26 L853.5 1201 L855.1 1201.74 L856.7 1202.48 L858.31 1203.21 L859.91 1203.93 L861.52 1204.65 L863.13 1205.37 L864.74 1206.08 L866.36 1206.78 L867.98 1207.48 L869.6 1208.18 L871.22 1208.86 L872.85 1209.54 L874.48 1210.22 L876.11 1210.89 L877.74 1211.55 L879.38 1212.21 L881.01 1212.86 L882.65 1213.51 L884.29 1214.16 L885.93 1214.81 L887.58 1215.45 L889.22 1216.1 L890.86 1216.74 L892.5 1217.39 L894.14 1218.04 L895.78 1218.69 L897.42 1219.34 L899.05 1220 L900.69 1220.66 L902.32 1221.33 L903.95 1222 L905.57 1222.68 L907.2 1223.37 L908.82 1224.07 L910.43 1224.77 L912.04 1225.49 L913.65 1226.21 L915.25 1226.94 L916.85 1227.68 L918.45 1228.43 L920.05 1229.18 L921.64 1229.94 L923.23 1230.7 L924.82 1231.47 L926.4 1232.24 L927.99 1233.01 L929.58 1233.79 L931.16 1234.56 L932.75 1235.33 L934.33 1236.1 L935.92 1236.87 L937.51 1237.64 L939.1 1238.4 L940.69 1239.15 L942.29 1239.9 L943.89 1240.65 L945.49 1241.39 L947.09 1242.11 L948.7 1242.83 L950.32 1243.54 L951.93 1244.24 L953.56 1244.93 L955.18 1245.61 L956.82 1246.27 L958.45 1246.92 L960.1 1247.56 L961.74 1248.2 L963.39 1248.82 L965.04 1249.44 L966.7 1250.05 L968.35 1250.66 L970.01 1251.27 L971.67 1251.87 L973.33 1252.47 L974.99 1253.08 L976.65 1253.68 L978.3 1254.29 L979.96 1254.9 L981.61 1255.51 L983.27 1256.13 L984.91 1256.75 L986.56 1257.39 L988.2 1258.03 L989.84 1258.68 L991.47 1259.35 L993.1 1260.02 L994.72 1260.71 L996.33 1261.41 L997.94 1262.13 L999.54 1262.87 L1001.14 1263.62 L1002.72 1264.38 L1004.31 1265.15 L1005.89 1265.93 L1007.46 1266.72 L1009.04 1267.52 L1010.61 1268.33 L1012.17 1269.14 L1013.74 1269.95 L1015.31 1270.77 L1016.87 1271.59 L1018.43 1272.41 L1020 1273.22 L1021.57 1274.04 L1023.13 1274.85 L1024.7 1275.65 L1026.28 1276.45 L1027.85 1277.24 L1029.44 1278.02 L1031.02 1278.79 L1032.61 1279.54 L1034.21 1280.29 L1035.81 1281.02 L1037.42 1281.73 L1039.04 1282.43 L1040.66 1283.11 L1042.29 1283.78 L1043.93 1284.43 L1045.57 1285.07 L1047.21 1285.7 L1048.86 1286.33 L1050.51 1286.94 L1052.17 1287.55 L1053.83 1288.15 L1055.49 1288.75 L1057.15 1289.34 L1058.82 1289.93 L1060.48 1290.52 L1062.14 1291.11 L1063.81 1291.7 L1065.47 1292.29 L1067.13 1292.88 L1068.79 1293.48 L1070.45 1294.09 L1072.1 1294.7 L1073.76 1295.32 L1075.4 1295.94 L1077.05 1296.58 L1078.68 1297.23 L1080.32 1297.89 L1081.94 1298.57 L1083.57 1299.25 L1085.18 1299.95 L1086.8 1300.66 L1088.4 1301.38 L1090.01 1302.11 L1091.61 1302.85 L1093.2 1303.6 L1094.79 1304.36 L1096.38 1305.12 L1097.97 1305.9 L1099.55 1306.67 L1101.13 1307.46 L1102.71 1308.25 L1104.28 1309.05 L1105.86 1309.84 L1107.43 1310.65 L1109 1311.45 L1110.57 1312.26 L1112.14 1313.08 L1113.71 1313.89 L1115.27 1314.7 L1116.84 1315.52 L1118.41 1316.33 L1119.98 1317.14 L1121.54 1317.96 L1123.11 1318.77 L1124.68 1319.58 L1126.26 1320.38 L1127.83 1321.18 L1129.4 1321.98 L1130.98 1322.77 L1132.56 1323.56 L1134.14 1324.34 L1135.73 1325.12 L1137.31 1325.89 L1138.91 1326.65 L1140.5 1327.4 L1142.1 1328.14 L1143.7 1328.88 L1145.31 1329.6 L1146.92 1330.32 L1148.54 1331.02 L1150.16 1331.72 L1151.78 1332.4 L1153.41 1333.06 L1155.05 1333.72 L1156.69 1334.36 L1158.34 1334.99 L1160 1335.6" fill="none" stroke="#7f00ff" stroke-width="10.1" stroke-linejoin="round" stroke-linecap="round"/>
</g>
<text transform="translate(223 778.5) scale(1 1.07)" font-size="54.2" text-anchor="middle" class="tk">0</text>
<text transform="translate(445.25 778.5) scale(1 1.07)" font-size="54.2" text-anchor="middle" class="tk">0.05</text>
<text transform="translate(667.5 778.5) scale(1 1.07)" font-size="54.2" text-anchor="middle" class="tk">0.1</text>
<text transform="translate(889.75 778.5) scale(1 1.07)" font-size="54.2" text-anchor="middle" class="tk">0.15</text>
<text transform="translate(1112 778.5) scale(1 1.07)" font-size="54.2" text-anchor="middle" class="tk">0.2</text>
<text transform="translate(202.5 723.2) scale(1 1.07)" font-size="54.2" text-anchor="end" class="tk">0</text>
<text transform="translate(202.5 557.33) scale(1 1.07)" font-size="54.2" text-anchor="end" class="tk">45</text>
<text transform="translate(202.5 391.45) scale(1 1.07)" font-size="54.2" text-anchor="end" class="tk">90</text>
<text transform="translate(202.5 225.57) scale(1 1.07)" font-size="54.2" text-anchor="end" class="tk">135</text>
<text transform="translate(202.5 59.7) scale(1 1.07)" font-size="54.2" text-anchor="end" class="tk">180</text>
<text transform="translate(1328 778.5) scale(1 1.07)" font-size="54.2" text-anchor="middle" class="tk">0</text>
<text transform="translate(1624.33 778.5) scale(1 1.07)" font-size="54.2" text-anchor="middle" class="tk">1000</text>
<text transform="translate(1920.67 778.5) scale(1 1.07)" font-size="54.2" text-anchor="middle" class="tk">2000</text>
<text transform="translate(2217 778.5) scale(1 1.07)" font-size="54.2" text-anchor="middle" class="tk">3000</text>
<text transform="translate(1304.5 612.62) scale(1 1.07)" font-size="54.2" text-anchor="end" class="tk">0.3</text>
<text transform="translate(1304.5 391.45) scale(1 1.07)" font-size="54.2" text-anchor="end" class="tk">0.4</text>
<text transform="translate(1304.5 170.28) scale(1 1.07)" font-size="54.2" text-anchor="end" class="tk">0.5</text>
<text transform="translate(213.5 1652) scale(1 1.07)" font-size="54.2" text-anchor="middle" class="tk">0</text>
<text transform="translate(439.38 1652) scale(1 1.07)" font-size="54.2" text-anchor="middle" class="tk">0.05</text>
<text transform="translate(665.25 1652) scale(1 1.07)" font-size="54.2" text-anchor="middle" class="tk">0.1</text>
<text transform="translate(891.12 1652) scale(1 1.07)" font-size="54.2" text-anchor="middle" class="tk">0.15</text>
<text transform="translate(1117 1652) scale(1 1.07)" font-size="54.2" text-anchor="middle" class="tk">0.2</text>
<text transform="translate(188.5 1043.37) scale(1 1.07)" font-size="54.2" text-anchor="end" class="tk">0</text>
<text transform="translate(188.5 1264.7) scale(1 1.07)" font-size="54.2" text-anchor="end" class="tk">-1</text>
<text transform="translate(188.5 1486.03) scale(1 1.07)" font-size="54.2" text-anchor="end" class="tk">-2</text>
<text transform="translate(1326 1652) scale(1 1.07)" font-size="54.2" text-anchor="middle" class="tk">0</text>
<text transform="translate(1626.33 1652) scale(1 1.07)" font-size="54.2" text-anchor="middle" class="tk">1000</text>
<text transform="translate(1926.67 1652) scale(1 1.07)" font-size="54.2" text-anchor="middle" class="tk">2000</text>
<text transform="translate(2227 1652) scale(1 1.07)" font-size="54.2" text-anchor="middle" class="tk">3000</text>
<text transform="translate(1302.5 1027.56) scale(1 1.07)" font-size="54.2" text-anchor="end" class="tk">0</text>
<text transform="translate(1302.5 1217.27) scale(1 1.07)" font-size="54.2" text-anchor="end" class="tk">-4</text>
<text transform="translate(1302.5 1406.99) scale(1 1.07)" font-size="54.2" text-anchor="end" class="tk">-8</text>
<text transform="translate(1302.5 1596.7) scale(1 1.07)" font-size="54.2" text-anchor="end" class="tk">-12</text>
<text x="248.3" y="671.5" font-size="121" class="se" fill="#000" stroke="#000" stroke-width="1.2">(a)</text>
<text x="1343.4" y="671.5" font-size="121" class="se" fill="#000" stroke="#000" stroke-width="1.2">(b)</text>
<text x="230.3" y="1523.4" font-size="121" class="se" fill="#000" stroke="#000" stroke-width="1.2">(c)</text>
<text x="1345.5" y="1523.4" font-size="121" class="se" fill="#000" stroke="#000" stroke-width="1.2">(d)</text>
<g aria-label="t (s)">
<text transform="translate(610.26 850.76) scale(1.125 1)" font-size="73.91" class="lb" font-style="italic" stroke="#262626" stroke-width="0.5">t</text>
<text transform="translate(649.89 851.55) scale(0.876 1)" font-size="72.73" class="lb" stroke="#262626" stroke-width="0.5">(</text>
<text transform="translate(670.16 850.86) scale(1.111 1)" font-size="63.96" class="lb" stroke="#262626" stroke-width="0.5">s</text>
<text transform="translate(697.62 851.55) scale(0.881 1)" font-size="72.73" class="lb" stroke="#262626" stroke-width="0.5">)</text>
</g>
<g aria-label="t (s)">
<text transform="translate(608.46 1723.56) scale(1.125 1)" font-size="73.91" class="lb" font-style="italic" stroke="#262626" stroke-width="0.5">t</text>
<text transform="translate(648.09 1724.35) scale(0.876 1)" font-size="72.73" class="lb" stroke="#262626" stroke-width="0.5">(</text>
<text transform="translate(668.36 1723.66) scale(1.111 1)" font-size="63.96" class="lb" stroke="#262626" stroke-width="0.5">s</text>
<text transform="translate(695.82 1724.35) scale(0.881 1)" font-size="72.73" class="lb" stroke="#262626" stroke-width="0.5">)</text>
</g>
<g aria-label="H0 (A/m)">
<text transform="translate(1637.72 849.7) scale(1.063 1)" font-size="67.79" class="lb" font-style="italic" stroke="#262626" stroke-width="0.5">H</text>
<text transform="translate(1687.8 860.15) scale(1.059 1)" font-size="45.33" class="lb" stroke="#262626" stroke-width="0.5">0</text>
<text transform="translate(1728.71 851.44) scale(0.843 1)" font-size="72.29" class="lb" stroke="#262626" stroke-width="0.5">(</text>
<text transform="translate(1751.16 849.7) scale(0.900 1)" font-size="70.91" class="lb" stroke="#262626" stroke-width="0.5">A</text>
<text transform="translate(1801.6 865.82) scale(0.979 1)" font-size="97.91" class="lb" stroke="#262626" stroke-width="0.5">/</text>
<text transform="translate(1830.29 849.7) scale(1.187 1)" font-size="59.57" class="lb" stroke="#262626" stroke-width="0.5">m</text>
<text transform="translate(1885.53 851.44) scale(0.881 1)" font-size="72.29" class="lb" stroke="#262626" stroke-width="0.5">)</text>
</g>
<g aria-label="H0 (A/m)">
<text transform="translate(1642.32 1723.7) scale(1.063 1)" font-size="67.79" class="lb" font-style="italic" stroke="#262626" stroke-width="0.5">H</text>
<text transform="translate(1692.4 1734.15) scale(1.059 1)" font-size="45.33" class="lb" stroke="#262626" stroke-width="0.5">0</text>
<text transform="translate(1733.31 1725.44) scale(0.843 1)" font-size="72.29" class="lb" stroke="#262626" stroke-width="0.5">(</text>
<text transform="translate(1755.76 1723.7) scale(0.900 1)" font-size="70.91" class="lb" stroke="#262626" stroke-width="0.5">A</text>
<text transform="translate(1806.2 1739.82) scale(0.979 1)" font-size="97.91" class="lb" stroke="#262626" stroke-width="0.5">/</text>
<text transform="translate(1834.89 1723.7) scale(1.187 1)" font-size="59.57" class="lb" stroke="#262626" stroke-width="0.5">m</text>
<text transform="translate(1890.13 1725.44) scale(0.881 1)" font-size="72.29" class="lb" stroke="#262626" stroke-width="0.5">)</text>
</g>
<g aria-label="ϕ (o)">
<text transform="rotate(-90) translate(-434.36 72.27) scale(1.127 1)" font-size="65.56" class="lb" font-style="italic" stroke="#262626" stroke-width="0.5">ϕ</text>
<text transform="rotate(-90) translate(-382.48 73.45) scale(0.796 1)" font-size="73.17" class="lb" stroke="#262626" stroke-width="0.5">(</text>
<text transform="rotate(-90) translate(-362.01 48.96) scale(1.048 1)" font-size="63.96" class="lb" stroke="#262626" stroke-width="0.5">o</text>
<text transform="rotate(-90) translate(-324.54 73.45) scale(0.817 1)" font-size="73.17" class="lb" stroke="#262626" stroke-width="0.5">)</text>
</g>
<g aria-label="τ">
<text transform="rotate(-90) translate(-389.34 1186.45) scale(1.382 1)" font-size="75.32" class="lb" font-style="italic" stroke="#262626" stroke-width="0.5">τ</text>
</g>
<g aria-label="yp − yp0 (μm)">
<text transform="rotate(-90) translate(-1420.49 105.32) scale(1.022 1)" font-size="61.78" class="lb" font-style="italic" stroke="#262626" stroke-width="0.5">y</text>
<text transform="rotate(-90) translate(-1388.93 114.8) scale(0.900 1)" font-size="40" class="lb" font-style="italic" stroke="#262626" stroke-width="1.1">p</text>
<text transform="rotate(-90) translate(-1353.85 110.05) scale(1.452 1)" font-size="60" class="lb" stroke="#262626" stroke-width="0.5">−</text>
<text transform="rotate(-90) translate(-1283.17 105.32) scale(1.007 1)" font-size="61.78" class="lb" font-style="italic" stroke="#262626" stroke-width="0.5">y</text>
<text transform="rotate(-90) translate(-1253.42 114.8) scale(0.905 1)" font-size="40" class="lb" font-style="italic" stroke="#262626" stroke-width="1.1">p</text>
<text transform="rotate(-90) translate(-1236.88 116.35) scale(1.048 1)" font-size="45.33" class="lb" stroke="#262626" stroke-width="0.5">0</text>
<text transform="rotate(-90) translate(-1195.43 107.07) scale(0.840 1)" font-size="70.74" class="lb" stroke="#262626" stroke-width="0.5">(</text>
<text transform="rotate(-90) translate(-1172.6 106.59) scale(1.218 1)" font-size="62.37" class="lb" font-style="italic" stroke="#262626" stroke-width="0.5">μ</text>
<text transform="rotate(-90) translate(-1136.2 106.1) scale(1.169 1)" font-size="60" class="lb" stroke="#262626" stroke-width="0.5">m</text>
<text transform="rotate(-90) translate(-1081.31 107.07) scale(0.917 1)" font-size="70.74" class="lb" stroke="#262626" stroke-width="0.5">)</text>
</g>
<g clip-path="url(#cDl)">
<g aria-label="Uv (μm/s)">
<text transform="rotate(-90) translate(-1377.17 1188.81) scale(0.745 1)" font-size="69.17" class="lb" font-style="italic" stroke="#262626" stroke-width="1.1">U</text>
<text transform="rotate(-90) translate(-1332.06 1197.65) scale(0.989 1)" font-size="44.68" class="lb" font-style="italic" stroke="#262626" stroke-width="1.1">v</text>
<text transform="rotate(-90) translate(-1301.34 1188.35) scale(0.758 1)" font-size="72.73" class="lb" stroke="#262626" stroke-width="0.5">(</text>
<text transform="rotate(-90) translate(-1279.7 1187.46) scale(1.206 1)" font-size="62.96" class="lb" font-style="italic" stroke="#262626" stroke-width="0.5">μ</text>
<text transform="rotate(-90) translate(-1243.28 1187.6) scale(1.118 1)" font-size="61.91" class="lb" stroke="#262626" stroke-width="0.5">m</text>
<text transform="rotate(-90) translate(-1185.7 1202.81) scale(0.765 1)" font-size="98.51" class="lb" stroke="#262626" stroke-width="0.5">/</text>
<text transform="rotate(-90) translate(-1156.74 1187.46) scale(0.959 1)" font-size="63.75" class="lb" stroke="#262626" stroke-width="0.5">s</text>
<text transform="rotate(-90) translate(-1129.52 1188.35) scale(0.812 1)" font-size="72.73" class="lb" stroke="#262626" stroke-width="0.5">)</text>
</g>
</g>
</svg>
</body></html>
